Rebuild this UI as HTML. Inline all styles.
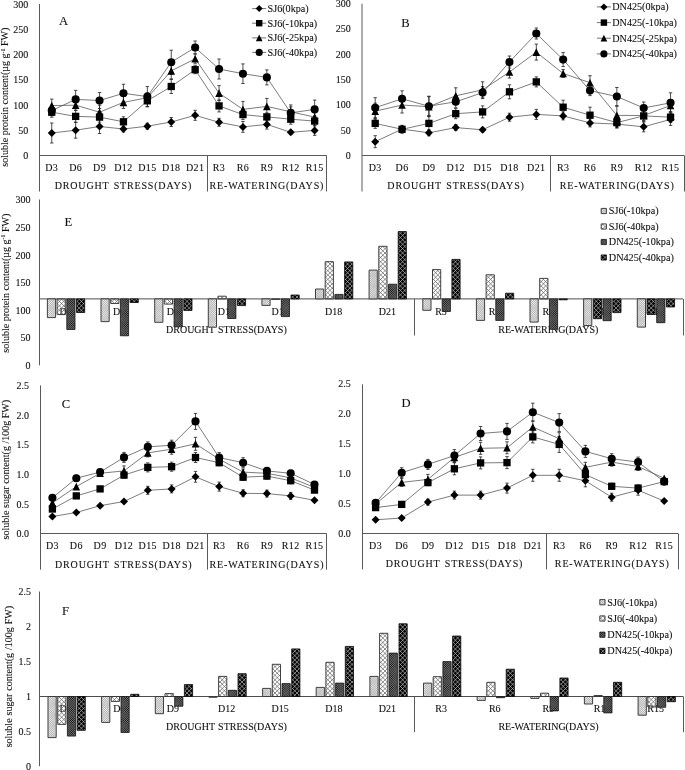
<!DOCTYPE html>
<html><head><meta charset="utf-8"><title>Figure</title>
<style>html,body{margin:0;padding:0;background:#fff}svg{display:block;will-change:transform;filter:grayscale(1)}text{font-family:"Liberation Serif",serif;fill:#111;stroke:#111;stroke-width:0.1px}</style>
</head><body>
<svg width="685" height="770" viewBox="0 0 685 770">
<defs>
</defs>
<rect width="685" height="770" fill="#fff"/>
<line x1="39.50" y1="4.00" x2="39.50" y2="191.50" stroke="#5a5a5a" stroke-width="1.0"/>
<line x1="39.80" y1="155.50" x2="326.60" y2="155.50" stroke="#5a5a5a" stroke-width="1.0"/>
<line x1="207.50" y1="155.40" x2="207.50" y2="191.50" stroke="#5a5a5a" stroke-width="1.0"/>
<line x1="326.50" y1="155.40" x2="326.50" y2="191.50" stroke="#5a5a5a" stroke-width="1.0"/>
<text x="28.30" y="7.60" font-size="10" text-anchor="end" >300</text>
<text x="28.30" y="32.80" font-size="10" text-anchor="end" >250</text>
<text x="28.30" y="58.00" font-size="10" text-anchor="end" >200</text>
<text x="28.30" y="83.30" font-size="10" text-anchor="end" >150</text>
<text x="28.30" y="108.80" font-size="10" text-anchor="end" >100</text>
<text x="28.30" y="134.00" font-size="10" text-anchor="end" >50</text>
<text x="28.30" y="158.70" font-size="10" text-anchor="end" >0</text>
<text transform="translate(8.40 97.20) rotate(-90)" font-size="10" text-anchor="middle">soluble protein content(µg g<tspan dy="-3.5" font-size="6">-1</tspan><tspan dy="3.5"> FW)</tspan></text>
<text x="59.00" y="24.60" font-size="12.6" text-anchor="start" >A</text>
<text x="51.75" y="171.00" font-size="10" text-anchor="middle" letter-spacing="0.4" >D3</text>
<text x="75.65" y="171.00" font-size="10" text-anchor="middle" letter-spacing="0.4" >D6</text>
<text x="99.55" y="171.00" font-size="10" text-anchor="middle" letter-spacing="0.4" >D9</text>
<text x="123.45" y="171.00" font-size="10" text-anchor="middle" letter-spacing="0.4" >D12</text>
<text x="147.35" y="171.00" font-size="10" text-anchor="middle" letter-spacing="0.4" >D15</text>
<text x="171.25" y="171.00" font-size="10" text-anchor="middle" letter-spacing="0.4" >D18</text>
<text x="195.15" y="171.00" font-size="10" text-anchor="middle" letter-spacing="0.4" >D21</text>
<text x="219.05" y="171.00" font-size="10" text-anchor="middle" letter-spacing="0.4" >R3</text>
<text x="242.95" y="171.00" font-size="10" text-anchor="middle" letter-spacing="0.4" >R6</text>
<text x="266.85" y="171.00" font-size="10" text-anchor="middle" letter-spacing="0.4" >R9</text>
<text x="290.75" y="171.00" font-size="10" text-anchor="middle" letter-spacing="0.4" >R12</text>
<text x="314.65" y="171.00" font-size="10" text-anchor="middle" letter-spacing="0.4" >R15</text>
<text x="123.45" y="188.90" font-size="10" text-anchor="middle" letter-spacing="0.82" word-spacing="1.2">DROUGHT STRESS(DAYS)</text>
<text x="266.85" y="188.90" font-size="10" text-anchor="middle" letter-spacing="0.86" >RE-WATERING(DAYS)</text>
<polyline points="51.75,133.00 75.65,130.20 99.55,126.50 123.45,129.00 147.35,126.20 171.25,122.00 195.15,115.30 219.05,122.30 242.95,126.90 266.85,124.40 290.75,132.30 314.65,130.40" fill="none" stroke="#505050" stroke-width="0.75"/>
<polyline points="51.75,112.20 75.65,116.40 99.55,117.10 123.45,121.80 147.35,100.80 171.25,86.50 195.15,69.70 219.05,105.90 242.95,114.60 266.85,116.90 290.75,119.20 314.65,121.10" fill="none" stroke="#505050" stroke-width="0.75"/>
<polyline points="51.75,105.60 75.65,105.20 99.55,112.20 123.45,102.40 147.35,97.70 171.25,70.90 195.15,58.80 219.05,93.10 242.95,109.40 266.85,106.40 290.75,111.80 314.65,117.10" fill="none" stroke="#505050" stroke-width="0.75"/>
<polyline points="51.75,110.60 75.65,99.40 99.55,100.50 123.45,93.30 147.35,96.60 171.25,62.20 195.15,47.50 219.05,69.00 242.95,73.70 266.85,77.40 290.75,112.90 314.65,109.40" fill="none" stroke="#505050" stroke-width="0.75"/>
<line x1="51.75" y1="123.00" x2="51.75" y2="143.00" stroke="#222" stroke-width="0.8"/>
<line x1="50.05" y1="123.00" x2="53.45" y2="123.00" stroke="#222" stroke-width="0.8"/>
<line x1="50.05" y1="143.00" x2="53.45" y2="143.00" stroke="#222" stroke-width="0.8"/>
<line x1="75.65" y1="122.20" x2="75.65" y2="138.20" stroke="#222" stroke-width="0.8"/>
<line x1="73.95" y1="122.20" x2="77.35" y2="122.20" stroke="#222" stroke-width="0.8"/>
<line x1="73.95" y1="138.20" x2="77.35" y2="138.20" stroke="#222" stroke-width="0.8"/>
<line x1="99.55" y1="119.50" x2="99.55" y2="133.50" stroke="#222" stroke-width="0.8"/>
<line x1="97.85" y1="119.50" x2="101.25" y2="119.50" stroke="#222" stroke-width="0.8"/>
<line x1="97.85" y1="133.50" x2="101.25" y2="133.50" stroke="#222" stroke-width="0.8"/>
<line x1="123.45" y1="126.00" x2="123.45" y2="132.00" stroke="#222" stroke-width="0.8"/>
<line x1="121.75" y1="126.00" x2="125.15" y2="126.00" stroke="#222" stroke-width="0.8"/>
<line x1="121.75" y1="132.00" x2="125.15" y2="132.00" stroke="#222" stroke-width="0.8"/>
<line x1="147.35" y1="123.20" x2="147.35" y2="129.20" stroke="#222" stroke-width="0.8"/>
<line x1="145.65" y1="123.20" x2="149.05" y2="123.20" stroke="#222" stroke-width="0.8"/>
<line x1="145.65" y1="129.20" x2="149.05" y2="129.20" stroke="#222" stroke-width="0.8"/>
<line x1="171.25" y1="117.50" x2="171.25" y2="126.50" stroke="#222" stroke-width="0.8"/>
<line x1="169.55" y1="117.50" x2="172.95" y2="117.50" stroke="#222" stroke-width="0.8"/>
<line x1="169.55" y1="126.50" x2="172.95" y2="126.50" stroke="#222" stroke-width="0.8"/>
<line x1="195.15" y1="110.30" x2="195.15" y2="120.30" stroke="#222" stroke-width="0.8"/>
<line x1="193.45" y1="110.30" x2="196.85" y2="110.30" stroke="#222" stroke-width="0.8"/>
<line x1="193.45" y1="120.30" x2="196.85" y2="120.30" stroke="#222" stroke-width="0.8"/>
<line x1="219.05" y1="118.30" x2="219.05" y2="126.30" stroke="#222" stroke-width="0.8"/>
<line x1="217.35" y1="118.30" x2="220.75" y2="118.30" stroke="#222" stroke-width="0.8"/>
<line x1="217.35" y1="126.30" x2="220.75" y2="126.30" stroke="#222" stroke-width="0.8"/>
<line x1="242.95" y1="121.50" x2="242.95" y2="132.30" stroke="#222" stroke-width="0.8"/>
<line x1="241.25" y1="121.50" x2="244.65" y2="121.50" stroke="#222" stroke-width="0.8"/>
<line x1="241.25" y1="132.30" x2="244.65" y2="132.30" stroke="#222" stroke-width="0.8"/>
<line x1="266.85" y1="119.70" x2="266.85" y2="129.10" stroke="#222" stroke-width="0.8"/>
<line x1="265.15" y1="119.70" x2="268.55" y2="119.70" stroke="#222" stroke-width="0.8"/>
<line x1="265.15" y1="129.10" x2="268.55" y2="129.10" stroke="#222" stroke-width="0.8"/>
<line x1="290.75" y1="130.30" x2="290.75" y2="134.30" stroke="#222" stroke-width="0.8"/>
<line x1="289.05" y1="130.30" x2="292.45" y2="130.30" stroke="#222" stroke-width="0.8"/>
<line x1="289.05" y1="134.30" x2="292.45" y2="134.30" stroke="#222" stroke-width="0.8"/>
<line x1="314.65" y1="125.40" x2="314.65" y2="135.40" stroke="#222" stroke-width="0.8"/>
<line x1="312.95" y1="125.40" x2="316.35" y2="125.40" stroke="#222" stroke-width="0.8"/>
<line x1="312.95" y1="135.40" x2="316.35" y2="135.40" stroke="#222" stroke-width="0.8"/>
<line x1="51.75" y1="107.20" x2="51.75" y2="117.20" stroke="#222" stroke-width="0.8"/>
<line x1="50.05" y1="107.20" x2="53.45" y2="107.20" stroke="#222" stroke-width="0.8"/>
<line x1="50.05" y1="117.20" x2="53.45" y2="117.20" stroke="#222" stroke-width="0.8"/>
<line x1="75.65" y1="110.40" x2="75.65" y2="122.40" stroke="#222" stroke-width="0.8"/>
<line x1="73.95" y1="110.40" x2="77.35" y2="110.40" stroke="#222" stroke-width="0.8"/>
<line x1="73.95" y1="122.40" x2="77.35" y2="122.40" stroke="#222" stroke-width="0.8"/>
<line x1="99.55" y1="112.10" x2="99.55" y2="122.10" stroke="#222" stroke-width="0.8"/>
<line x1="97.85" y1="112.10" x2="101.25" y2="112.10" stroke="#222" stroke-width="0.8"/>
<line x1="97.85" y1="122.10" x2="101.25" y2="122.10" stroke="#222" stroke-width="0.8"/>
<line x1="123.45" y1="116.80" x2="123.45" y2="126.80" stroke="#222" stroke-width="0.8"/>
<line x1="121.75" y1="116.80" x2="125.15" y2="116.80" stroke="#222" stroke-width="0.8"/>
<line x1="121.75" y1="126.80" x2="125.15" y2="126.80" stroke="#222" stroke-width="0.8"/>
<line x1="147.35" y1="94.80" x2="147.35" y2="106.80" stroke="#222" stroke-width="0.8"/>
<line x1="145.65" y1="94.80" x2="149.05" y2="94.80" stroke="#222" stroke-width="0.8"/>
<line x1="145.65" y1="106.80" x2="149.05" y2="106.80" stroke="#222" stroke-width="0.8"/>
<line x1="171.25" y1="79.50" x2="171.25" y2="93.50" stroke="#222" stroke-width="0.8"/>
<line x1="169.55" y1="79.50" x2="172.95" y2="79.50" stroke="#222" stroke-width="0.8"/>
<line x1="169.55" y1="93.50" x2="172.95" y2="93.50" stroke="#222" stroke-width="0.8"/>
<line x1="195.15" y1="65.70" x2="195.15" y2="73.70" stroke="#222" stroke-width="0.8"/>
<line x1="193.45" y1="65.70" x2="196.85" y2="65.70" stroke="#222" stroke-width="0.8"/>
<line x1="193.45" y1="73.70" x2="196.85" y2="73.70" stroke="#222" stroke-width="0.8"/>
<line x1="219.05" y1="99.90" x2="219.05" y2="111.90" stroke="#222" stroke-width="0.8"/>
<line x1="217.35" y1="99.90" x2="220.75" y2="99.90" stroke="#222" stroke-width="0.8"/>
<line x1="217.35" y1="111.90" x2="220.75" y2="111.90" stroke="#222" stroke-width="0.8"/>
<line x1="242.95" y1="109.60" x2="242.95" y2="119.60" stroke="#222" stroke-width="0.8"/>
<line x1="241.25" y1="109.60" x2="244.65" y2="109.60" stroke="#222" stroke-width="0.8"/>
<line x1="241.25" y1="119.60" x2="244.65" y2="119.60" stroke="#222" stroke-width="0.8"/>
<line x1="266.85" y1="112.90" x2="266.85" y2="120.90" stroke="#222" stroke-width="0.8"/>
<line x1="265.15" y1="112.90" x2="268.55" y2="112.90" stroke="#222" stroke-width="0.8"/>
<line x1="265.15" y1="120.90" x2="268.55" y2="120.90" stroke="#222" stroke-width="0.8"/>
<line x1="290.75" y1="114.20" x2="290.75" y2="124.20" stroke="#222" stroke-width="0.8"/>
<line x1="289.05" y1="114.20" x2="292.45" y2="114.20" stroke="#222" stroke-width="0.8"/>
<line x1="289.05" y1="124.20" x2="292.45" y2="124.20" stroke="#222" stroke-width="0.8"/>
<line x1="314.65" y1="116.10" x2="314.65" y2="126.10" stroke="#222" stroke-width="0.8"/>
<line x1="312.95" y1="116.10" x2="316.35" y2="116.10" stroke="#222" stroke-width="0.8"/>
<line x1="312.95" y1="126.10" x2="316.35" y2="126.10" stroke="#222" stroke-width="0.8"/>
<line x1="51.75" y1="99.10" x2="51.75" y2="112.10" stroke="#222" stroke-width="0.8"/>
<line x1="50.05" y1="99.10" x2="53.45" y2="99.10" stroke="#222" stroke-width="0.8"/>
<line x1="50.05" y1="112.10" x2="53.45" y2="112.10" stroke="#222" stroke-width="0.8"/>
<line x1="75.65" y1="100.20" x2="75.65" y2="110.20" stroke="#222" stroke-width="0.8"/>
<line x1="73.95" y1="100.20" x2="77.35" y2="100.20" stroke="#222" stroke-width="0.8"/>
<line x1="73.95" y1="110.20" x2="77.35" y2="110.20" stroke="#222" stroke-width="0.8"/>
<line x1="99.55" y1="105.20" x2="99.55" y2="119.20" stroke="#222" stroke-width="0.8"/>
<line x1="97.85" y1="105.20" x2="101.25" y2="105.20" stroke="#222" stroke-width="0.8"/>
<line x1="97.85" y1="119.20" x2="101.25" y2="119.20" stroke="#222" stroke-width="0.8"/>
<line x1="123.45" y1="96.40" x2="123.45" y2="108.40" stroke="#222" stroke-width="0.8"/>
<line x1="121.75" y1="96.40" x2="125.15" y2="96.40" stroke="#222" stroke-width="0.8"/>
<line x1="121.75" y1="108.40" x2="125.15" y2="108.40" stroke="#222" stroke-width="0.8"/>
<line x1="147.35" y1="92.70" x2="147.35" y2="102.70" stroke="#222" stroke-width="0.8"/>
<line x1="145.65" y1="92.70" x2="149.05" y2="92.70" stroke="#222" stroke-width="0.8"/>
<line x1="145.65" y1="102.70" x2="149.05" y2="102.70" stroke="#222" stroke-width="0.8"/>
<line x1="171.25" y1="62.90" x2="171.25" y2="78.90" stroke="#222" stroke-width="0.8"/>
<line x1="169.55" y1="62.90" x2="172.95" y2="62.90" stroke="#222" stroke-width="0.8"/>
<line x1="169.55" y1="78.90" x2="172.95" y2="78.90" stroke="#222" stroke-width="0.8"/>
<line x1="195.15" y1="53.80" x2="195.15" y2="63.80" stroke="#222" stroke-width="0.8"/>
<line x1="193.45" y1="53.80" x2="196.85" y2="53.80" stroke="#222" stroke-width="0.8"/>
<line x1="193.45" y1="63.80" x2="196.85" y2="63.80" stroke="#222" stroke-width="0.8"/>
<line x1="219.05" y1="85.60" x2="219.05" y2="100.60" stroke="#222" stroke-width="0.8"/>
<line x1="217.35" y1="85.60" x2="220.75" y2="85.60" stroke="#222" stroke-width="0.8"/>
<line x1="217.35" y1="100.60" x2="220.75" y2="100.60" stroke="#222" stroke-width="0.8"/>
<line x1="242.95" y1="101.40" x2="242.95" y2="117.40" stroke="#222" stroke-width="0.8"/>
<line x1="241.25" y1="101.40" x2="244.65" y2="101.40" stroke="#222" stroke-width="0.8"/>
<line x1="241.25" y1="117.40" x2="244.65" y2="117.40" stroke="#222" stroke-width="0.8"/>
<line x1="266.85" y1="98.40" x2="266.85" y2="114.40" stroke="#222" stroke-width="0.8"/>
<line x1="265.15" y1="98.40" x2="268.55" y2="98.40" stroke="#222" stroke-width="0.8"/>
<line x1="265.15" y1="114.40" x2="268.55" y2="114.40" stroke="#222" stroke-width="0.8"/>
<line x1="290.75" y1="106.80" x2="290.75" y2="116.80" stroke="#222" stroke-width="0.8"/>
<line x1="289.05" y1="106.80" x2="292.45" y2="106.80" stroke="#222" stroke-width="0.8"/>
<line x1="289.05" y1="116.80" x2="292.45" y2="116.80" stroke="#222" stroke-width="0.8"/>
<line x1="314.65" y1="112.10" x2="314.65" y2="122.10" stroke="#222" stroke-width="0.8"/>
<line x1="312.95" y1="112.10" x2="316.35" y2="112.10" stroke="#222" stroke-width="0.8"/>
<line x1="312.95" y1="122.10" x2="316.35" y2="122.10" stroke="#222" stroke-width="0.8"/>
<line x1="51.75" y1="105.60" x2="51.75" y2="115.60" stroke="#222" stroke-width="0.8"/>
<line x1="50.05" y1="105.60" x2="53.45" y2="105.60" stroke="#222" stroke-width="0.8"/>
<line x1="50.05" y1="115.60" x2="53.45" y2="115.60" stroke="#222" stroke-width="0.8"/>
<line x1="75.65" y1="90.40" x2="75.65" y2="108.40" stroke="#222" stroke-width="0.8"/>
<line x1="73.95" y1="90.40" x2="77.35" y2="90.40" stroke="#222" stroke-width="0.8"/>
<line x1="73.95" y1="108.40" x2="77.35" y2="108.40" stroke="#222" stroke-width="0.8"/>
<line x1="99.55" y1="92.50" x2="99.55" y2="108.50" stroke="#222" stroke-width="0.8"/>
<line x1="97.85" y1="92.50" x2="101.25" y2="92.50" stroke="#222" stroke-width="0.8"/>
<line x1="97.85" y1="108.50" x2="101.25" y2="108.50" stroke="#222" stroke-width="0.8"/>
<line x1="123.45" y1="84.30" x2="123.45" y2="102.30" stroke="#222" stroke-width="0.8"/>
<line x1="121.75" y1="84.30" x2="125.15" y2="84.30" stroke="#222" stroke-width="0.8"/>
<line x1="121.75" y1="102.30" x2="125.15" y2="102.30" stroke="#222" stroke-width="0.8"/>
<line x1="147.35" y1="86.60" x2="147.35" y2="106.60" stroke="#222" stroke-width="0.8"/>
<line x1="145.65" y1="86.60" x2="149.05" y2="86.60" stroke="#222" stroke-width="0.8"/>
<line x1="145.65" y1="106.60" x2="149.05" y2="106.60" stroke="#222" stroke-width="0.8"/>
<line x1="171.25" y1="50.20" x2="171.25" y2="74.20" stroke="#222" stroke-width="0.8"/>
<line x1="169.55" y1="50.20" x2="172.95" y2="50.20" stroke="#222" stroke-width="0.8"/>
<line x1="169.55" y1="74.20" x2="172.95" y2="74.20" stroke="#222" stroke-width="0.8"/>
<line x1="195.15" y1="41.00" x2="195.15" y2="54.00" stroke="#222" stroke-width="0.8"/>
<line x1="193.45" y1="41.00" x2="196.85" y2="41.00" stroke="#222" stroke-width="0.8"/>
<line x1="193.45" y1="54.00" x2="196.85" y2="54.00" stroke="#222" stroke-width="0.8"/>
<line x1="219.05" y1="59.00" x2="219.05" y2="79.00" stroke="#222" stroke-width="0.8"/>
<line x1="217.35" y1="59.00" x2="220.75" y2="59.00" stroke="#222" stroke-width="0.8"/>
<line x1="217.35" y1="79.00" x2="220.75" y2="79.00" stroke="#222" stroke-width="0.8"/>
<line x1="242.95" y1="63.90" x2="242.95" y2="83.50" stroke="#222" stroke-width="0.8"/>
<line x1="241.25" y1="63.90" x2="244.65" y2="63.90" stroke="#222" stroke-width="0.8"/>
<line x1="241.25" y1="83.50" x2="244.65" y2="83.50" stroke="#222" stroke-width="0.8"/>
<line x1="266.85" y1="69.90" x2="266.85" y2="84.90" stroke="#222" stroke-width="0.8"/>
<line x1="265.15" y1="69.90" x2="268.55" y2="69.90" stroke="#222" stroke-width="0.8"/>
<line x1="265.15" y1="84.90" x2="268.55" y2="84.90" stroke="#222" stroke-width="0.8"/>
<line x1="290.75" y1="104.90" x2="290.75" y2="120.90" stroke="#222" stroke-width="0.8"/>
<line x1="289.05" y1="104.90" x2="292.45" y2="104.90" stroke="#222" stroke-width="0.8"/>
<line x1="289.05" y1="120.90" x2="292.45" y2="120.90" stroke="#222" stroke-width="0.8"/>
<line x1="314.65" y1="100.10" x2="314.65" y2="118.70" stroke="#222" stroke-width="0.8"/>
<line x1="312.95" y1="100.10" x2="316.35" y2="100.10" stroke="#222" stroke-width="0.8"/>
<line x1="312.95" y1="118.70" x2="316.35" y2="118.70" stroke="#222" stroke-width="0.8"/>
<path d="M51.75 129.00L55.75 133.00L51.75 137.00L47.75 133.00Z" fill="#000"/>
<path d="M75.65 126.20L79.65 130.20L75.65 134.20L71.65 130.20Z" fill="#000"/>
<path d="M99.55 122.50L103.55 126.50L99.55 130.50L95.55 126.50Z" fill="#000"/>
<path d="M123.45 125.00L127.45 129.00L123.45 133.00L119.45 129.00Z" fill="#000"/>
<path d="M147.35 122.20L151.35 126.20L147.35 130.20L143.35 126.20Z" fill="#000"/>
<path d="M171.25 118.00L175.25 122.00L171.25 126.00L167.25 122.00Z" fill="#000"/>
<path d="M195.15 111.30L199.15 115.30L195.15 119.30L191.15 115.30Z" fill="#000"/>
<path d="M219.05 118.30L223.05 122.30L219.05 126.30L215.05 122.30Z" fill="#000"/>
<path d="M242.95 122.90L246.95 126.90L242.95 130.90L238.95 126.90Z" fill="#000"/>
<path d="M266.85 120.40L270.85 124.40L266.85 128.40L262.85 124.40Z" fill="#000"/>
<path d="M290.75 128.30L294.75 132.30L290.75 136.30L286.75 132.30Z" fill="#000"/>
<path d="M314.65 126.40L318.65 130.40L314.65 134.40L310.65 130.40Z" fill="#000"/>
<rect x="48.10" y="108.55" width="7.30" height="7.30" fill="#000"/>
<rect x="72.00" y="112.75" width="7.30" height="7.30" fill="#000"/>
<rect x="95.90" y="113.45" width="7.30" height="7.30" fill="#000"/>
<rect x="119.80" y="118.15" width="7.30" height="7.30" fill="#000"/>
<rect x="143.70" y="97.15" width="7.30" height="7.30" fill="#000"/>
<rect x="167.60" y="82.85" width="7.30" height="7.30" fill="#000"/>
<rect x="191.50" y="66.05" width="7.30" height="7.30" fill="#000"/>
<rect x="215.40" y="102.25" width="7.30" height="7.30" fill="#000"/>
<rect x="239.30" y="110.95" width="7.30" height="7.30" fill="#000"/>
<rect x="263.20" y="113.25" width="7.30" height="7.30" fill="#000"/>
<rect x="287.10" y="115.55" width="7.30" height="7.30" fill="#000"/>
<rect x="311.00" y="117.45" width="7.30" height="7.30" fill="#000"/>
<path d="M51.75 101.80L55.55 109.40L47.95 109.40Z" fill="#000"/>
<path d="M75.65 101.40L79.45 109.00L71.85 109.00Z" fill="#000"/>
<path d="M99.55 108.40L103.35 116.00L95.75 116.00Z" fill="#000"/>
<path d="M123.45 98.60L127.25 106.20L119.65 106.20Z" fill="#000"/>
<path d="M147.35 93.90L151.15 101.50L143.55 101.50Z" fill="#000"/>
<path d="M171.25 67.10L175.05 74.70L167.45 74.70Z" fill="#000"/>
<path d="M195.15 55.00L198.95 62.60L191.35 62.60Z" fill="#000"/>
<path d="M219.05 89.30L222.85 96.90L215.25 96.90Z" fill="#000"/>
<path d="M242.95 105.60L246.75 113.20L239.15 113.20Z" fill="#000"/>
<path d="M266.85 102.60L270.65 110.20L263.05 110.20Z" fill="#000"/>
<path d="M290.75 108.00L294.55 115.60L286.95 115.60Z" fill="#000"/>
<path d="M314.65 113.30L318.45 120.90L310.85 120.90Z" fill="#000"/>
<circle cx="51.75" cy="110.60" r="4.05" fill="#000"/>
<circle cx="75.65" cy="99.40" r="4.05" fill="#000"/>
<circle cx="99.55" cy="100.50" r="4.05" fill="#000"/>
<circle cx="123.45" cy="93.30" r="4.05" fill="#000"/>
<circle cx="147.35" cy="96.60" r="4.05" fill="#000"/>
<circle cx="171.25" cy="62.20" r="4.05" fill="#000"/>
<circle cx="195.15" cy="47.50" r="4.05" fill="#000"/>
<circle cx="219.05" cy="69.00" r="4.05" fill="#000"/>
<circle cx="242.95" cy="73.70" r="4.05" fill="#000"/>
<circle cx="266.85" cy="77.40" r="4.05" fill="#000"/>
<circle cx="290.75" cy="112.90" r="4.05" fill="#000"/>
<circle cx="314.65" cy="109.40" r="4.05" fill="#000"/>
<line x1="252.20" y1="8.60" x2="266.20" y2="8.60" stroke="#505050" stroke-width="0.8"/>
<path d="M259.20 5.08L262.72 8.60L259.20 12.12L255.68 8.60Z" fill="#000"/>
<text x="267.60" y="11.90" font-size="10.15" text-anchor="start" >SJ6(0kpa)</text>
<line x1="252.20" y1="23.20" x2="266.20" y2="23.20" stroke="#505050" stroke-width="0.8"/>
<rect x="255.99" y="19.99" width="6.42" height="6.42" fill="#000"/>
<text x="267.60" y="26.50" font-size="10.15" text-anchor="start" >SJ6(-10kpa)</text>
<line x1="252.20" y1="37.90" x2="266.20" y2="37.90" stroke="#505050" stroke-width="0.8"/>
<path d="M259.20 34.56L262.54 41.24L255.86 41.24Z" fill="#000"/>
<text x="267.60" y="41.20" font-size="10.15" text-anchor="start" >SJ6(-25kpa)</text>
<line x1="252.20" y1="52.40" x2="266.20" y2="52.40" stroke="#505050" stroke-width="0.8"/>
<circle cx="259.20" cy="52.40" r="3.56" fill="#000"/>
<text x="267.60" y="55.70" font-size="10.15" text-anchor="start" >SJ6(-40kpa)</text>
<line x1="362.00" y1="3.70" x2="362.00" y2="191.50" stroke="#5a5a5a" stroke-width="1.0"/>
<line x1="362.00" y1="155.50" x2="684.40" y2="155.50" stroke="#5a5a5a" stroke-width="1.0"/>
<line x1="550.50" y1="155.50" x2="550.50" y2="191.50" stroke="#5a5a5a" stroke-width="1.0"/>
<line x1="684.50" y1="155.50" x2="684.50" y2="191.50" stroke="#5a5a5a" stroke-width="1.0"/>
<text x="350.70" y="7.20" font-size="10" text-anchor="end" >300</text>
<text x="350.70" y="32.00" font-size="10" text-anchor="end" >250</text>
<text x="350.70" y="57.80" font-size="10" text-anchor="end" >200</text>
<text x="350.70" y="83.10" font-size="10" text-anchor="end" >150</text>
<text x="350.70" y="108.30" font-size="10" text-anchor="end" >100</text>
<text x="350.70" y="133.50" font-size="10" text-anchor="end" >50</text>
<text x="350.70" y="158.80" font-size="10" text-anchor="end" >0</text>
<text transform="translate(0.00 0.00) rotate(-90)" font-size="10" text-anchor="middle"></text>
<text x="401.30" y="27.30" font-size="12.6" text-anchor="start" >B</text>
<text x="375.20" y="171.00" font-size="10" text-anchor="middle" letter-spacing="0.4" >D3</text>
<text x="402.05" y="171.00" font-size="10" text-anchor="middle" letter-spacing="0.4" >D6</text>
<text x="428.90" y="171.00" font-size="10" text-anchor="middle" letter-spacing="0.4" >D9</text>
<text x="455.75" y="171.00" font-size="10" text-anchor="middle" letter-spacing="0.4" >D12</text>
<text x="482.60" y="171.00" font-size="10" text-anchor="middle" letter-spacing="0.4" >D15</text>
<text x="509.45" y="171.00" font-size="10" text-anchor="middle" letter-spacing="0.4" >D18</text>
<text x="536.30" y="171.00" font-size="10" text-anchor="middle" letter-spacing="0.4" >D21</text>
<text x="563.15" y="171.00" font-size="10" text-anchor="middle" letter-spacing="0.4" >R3</text>
<text x="590.00" y="171.00" font-size="10" text-anchor="middle" letter-spacing="0.4" >R6</text>
<text x="616.85" y="171.00" font-size="10" text-anchor="middle" letter-spacing="0.4" >R9</text>
<text x="643.70" y="171.00" font-size="10" text-anchor="middle" letter-spacing="0.4" >R12</text>
<text x="670.55" y="171.00" font-size="10" text-anchor="middle" letter-spacing="0.4" >R15</text>
<text x="456.03" y="188.90" font-size="10" text-anchor="middle" letter-spacing="0.82" word-spacing="1.2">DROUGHT STRESS(DAYS)</text>
<text x="617.23" y="188.90" font-size="10" text-anchor="middle" letter-spacing="0.86" >RE-WATERING(DAYS)</text>
<polyline points="375.20,141.70 402.05,129.10 428.90,132.80 455.75,127.60 482.60,129.80 509.45,117.20 536.30,114.40 563.15,115.90 590.00,122.90 616.85,124.10 643.70,126.80 670.55,119.40" fill="none" stroke="#505050" stroke-width="0.75"/>
<polyline points="375.20,123.40 402.05,129.30 428.90,123.40 455.75,113.70 482.60,111.90 509.45,91.80 536.30,81.90 563.15,107.20 590.00,115.20 616.85,122.60 643.70,115.90 670.55,117.20" fill="none" stroke="#505050" stroke-width="0.75"/>
<polyline points="375.20,111.20 402.05,105.00 428.90,106.70 455.75,95.80 482.60,89.80 509.45,72.00 536.30,52.10 563.15,73.50 590.00,82.70 616.85,115.40 643.70,115.50 670.55,105.50" fill="none" stroke="#505050" stroke-width="0.75"/>
<polyline points="375.20,107.70 402.05,98.80 428.90,106.20 455.75,101.80 482.60,92.60 509.45,62.00 536.30,33.50 563.15,59.60 590.00,90.60 616.85,96.50 643.70,108.00 670.55,102.80" fill="none" stroke="#505050" stroke-width="0.75"/>
<line x1="375.20" y1="135.70" x2="375.20" y2="147.70" stroke="#222" stroke-width="0.8"/>
<line x1="373.50" y1="135.70" x2="376.90" y2="135.70" stroke="#222" stroke-width="0.8"/>
<line x1="373.50" y1="147.70" x2="376.90" y2="147.70" stroke="#222" stroke-width="0.8"/>
<line x1="402.05" y1="126.10" x2="402.05" y2="132.10" stroke="#222" stroke-width="0.8"/>
<line x1="400.35" y1="126.10" x2="403.75" y2="126.10" stroke="#222" stroke-width="0.8"/>
<line x1="400.35" y1="132.10" x2="403.75" y2="132.10" stroke="#222" stroke-width="0.8"/>
<line x1="428.90" y1="129.80" x2="428.90" y2="135.80" stroke="#222" stroke-width="0.8"/>
<line x1="427.20" y1="129.80" x2="430.60" y2="129.80" stroke="#222" stroke-width="0.8"/>
<line x1="427.20" y1="135.80" x2="430.60" y2="135.80" stroke="#222" stroke-width="0.8"/>
<line x1="455.75" y1="124.60" x2="455.75" y2="130.60" stroke="#222" stroke-width="0.8"/>
<line x1="454.05" y1="124.60" x2="457.45" y2="124.60" stroke="#222" stroke-width="0.8"/>
<line x1="454.05" y1="130.60" x2="457.45" y2="130.60" stroke="#222" stroke-width="0.8"/>
<line x1="482.60" y1="127.80" x2="482.60" y2="131.80" stroke="#222" stroke-width="0.8"/>
<line x1="480.90" y1="127.80" x2="484.30" y2="127.80" stroke="#222" stroke-width="0.8"/>
<line x1="480.90" y1="131.80" x2="484.30" y2="131.80" stroke="#222" stroke-width="0.8"/>
<line x1="509.45" y1="113.20" x2="509.45" y2="121.20" stroke="#222" stroke-width="0.8"/>
<line x1="507.75" y1="113.20" x2="511.15" y2="113.20" stroke="#222" stroke-width="0.8"/>
<line x1="507.75" y1="121.20" x2="511.15" y2="121.20" stroke="#222" stroke-width="0.8"/>
<line x1="536.30" y1="109.40" x2="536.30" y2="119.40" stroke="#222" stroke-width="0.8"/>
<line x1="534.60" y1="109.40" x2="538.00" y2="109.40" stroke="#222" stroke-width="0.8"/>
<line x1="534.60" y1="119.40" x2="538.00" y2="119.40" stroke="#222" stroke-width="0.8"/>
<line x1="563.15" y1="111.90" x2="563.15" y2="119.90" stroke="#222" stroke-width="0.8"/>
<line x1="561.45" y1="111.90" x2="564.85" y2="111.90" stroke="#222" stroke-width="0.8"/>
<line x1="561.45" y1="119.90" x2="564.85" y2="119.90" stroke="#222" stroke-width="0.8"/>
<line x1="590.00" y1="118.90" x2="590.00" y2="126.90" stroke="#222" stroke-width="0.8"/>
<line x1="588.30" y1="118.90" x2="591.70" y2="118.90" stroke="#222" stroke-width="0.8"/>
<line x1="588.30" y1="126.90" x2="591.70" y2="126.90" stroke="#222" stroke-width="0.8"/>
<line x1="616.85" y1="120.10" x2="616.85" y2="128.10" stroke="#222" stroke-width="0.8"/>
<line x1="615.15" y1="120.10" x2="618.55" y2="120.10" stroke="#222" stroke-width="0.8"/>
<line x1="615.15" y1="128.10" x2="618.55" y2="128.10" stroke="#222" stroke-width="0.8"/>
<line x1="643.70" y1="121.80" x2="643.70" y2="131.80" stroke="#222" stroke-width="0.8"/>
<line x1="642.00" y1="121.80" x2="645.40" y2="121.80" stroke="#222" stroke-width="0.8"/>
<line x1="642.00" y1="131.80" x2="645.40" y2="131.80" stroke="#222" stroke-width="0.8"/>
<line x1="670.55" y1="113.40" x2="670.55" y2="125.40" stroke="#222" stroke-width="0.8"/>
<line x1="668.85" y1="113.40" x2="672.25" y2="113.40" stroke="#222" stroke-width="0.8"/>
<line x1="668.85" y1="125.40" x2="672.25" y2="125.40" stroke="#222" stroke-width="0.8"/>
<line x1="375.20" y1="118.40" x2="375.20" y2="128.40" stroke="#222" stroke-width="0.8"/>
<line x1="373.50" y1="118.40" x2="376.90" y2="118.40" stroke="#222" stroke-width="0.8"/>
<line x1="373.50" y1="128.40" x2="376.90" y2="128.40" stroke="#222" stroke-width="0.8"/>
<line x1="402.05" y1="125.30" x2="402.05" y2="133.30" stroke="#222" stroke-width="0.8"/>
<line x1="400.35" y1="125.30" x2="403.75" y2="125.30" stroke="#222" stroke-width="0.8"/>
<line x1="400.35" y1="133.30" x2="403.75" y2="133.30" stroke="#222" stroke-width="0.8"/>
<line x1="428.90" y1="115.40" x2="428.90" y2="131.40" stroke="#222" stroke-width="0.8"/>
<line x1="427.20" y1="115.40" x2="430.60" y2="115.40" stroke="#222" stroke-width="0.8"/>
<line x1="427.20" y1="131.40" x2="430.60" y2="131.40" stroke="#222" stroke-width="0.8"/>
<line x1="455.75" y1="108.70" x2="455.75" y2="118.70" stroke="#222" stroke-width="0.8"/>
<line x1="454.05" y1="108.70" x2="457.45" y2="108.70" stroke="#222" stroke-width="0.8"/>
<line x1="454.05" y1="118.70" x2="457.45" y2="118.70" stroke="#222" stroke-width="0.8"/>
<line x1="482.60" y1="105.90" x2="482.60" y2="117.90" stroke="#222" stroke-width="0.8"/>
<line x1="480.90" y1="105.90" x2="484.30" y2="105.90" stroke="#222" stroke-width="0.8"/>
<line x1="480.90" y1="117.90" x2="484.30" y2="117.90" stroke="#222" stroke-width="0.8"/>
<line x1="509.45" y1="84.80" x2="509.45" y2="98.80" stroke="#222" stroke-width="0.8"/>
<line x1="507.75" y1="84.80" x2="511.15" y2="84.80" stroke="#222" stroke-width="0.8"/>
<line x1="507.75" y1="98.80" x2="511.15" y2="98.80" stroke="#222" stroke-width="0.8"/>
<line x1="536.30" y1="76.90" x2="536.30" y2="86.90" stroke="#222" stroke-width="0.8"/>
<line x1="534.60" y1="76.90" x2="538.00" y2="76.90" stroke="#222" stroke-width="0.8"/>
<line x1="534.60" y1="86.90" x2="538.00" y2="86.90" stroke="#222" stroke-width="0.8"/>
<line x1="563.15" y1="100.20" x2="563.15" y2="114.20" stroke="#222" stroke-width="0.8"/>
<line x1="561.45" y1="100.20" x2="564.85" y2="100.20" stroke="#222" stroke-width="0.8"/>
<line x1="561.45" y1="114.20" x2="564.85" y2="114.20" stroke="#222" stroke-width="0.8"/>
<line x1="590.00" y1="107.20" x2="590.00" y2="123.20" stroke="#222" stroke-width="0.8"/>
<line x1="588.30" y1="107.20" x2="591.70" y2="107.20" stroke="#222" stroke-width="0.8"/>
<line x1="588.30" y1="123.20" x2="591.70" y2="123.20" stroke="#222" stroke-width="0.8"/>
<line x1="616.85" y1="117.60" x2="616.85" y2="127.60" stroke="#222" stroke-width="0.8"/>
<line x1="615.15" y1="117.60" x2="618.55" y2="117.60" stroke="#222" stroke-width="0.8"/>
<line x1="615.15" y1="127.60" x2="618.55" y2="127.60" stroke="#222" stroke-width="0.8"/>
<line x1="643.70" y1="109.90" x2="643.70" y2="121.90" stroke="#222" stroke-width="0.8"/>
<line x1="642.00" y1="109.90" x2="645.40" y2="109.90" stroke="#222" stroke-width="0.8"/>
<line x1="642.00" y1="121.90" x2="645.40" y2="121.90" stroke="#222" stroke-width="0.8"/>
<line x1="670.55" y1="112.20" x2="670.55" y2="122.20" stroke="#222" stroke-width="0.8"/>
<line x1="668.85" y1="112.20" x2="672.25" y2="112.20" stroke="#222" stroke-width="0.8"/>
<line x1="668.85" y1="122.20" x2="672.25" y2="122.20" stroke="#222" stroke-width="0.8"/>
<line x1="375.20" y1="103.20" x2="375.20" y2="119.20" stroke="#222" stroke-width="0.8"/>
<line x1="373.50" y1="103.20" x2="376.90" y2="103.20" stroke="#222" stroke-width="0.8"/>
<line x1="373.50" y1="119.20" x2="376.90" y2="119.20" stroke="#222" stroke-width="0.8"/>
<line x1="402.05" y1="97.00" x2="402.05" y2="113.00" stroke="#222" stroke-width="0.8"/>
<line x1="400.35" y1="97.00" x2="403.75" y2="97.00" stroke="#222" stroke-width="0.8"/>
<line x1="400.35" y1="113.00" x2="403.75" y2="113.00" stroke="#222" stroke-width="0.8"/>
<line x1="428.90" y1="96.70" x2="428.90" y2="116.70" stroke="#222" stroke-width="0.8"/>
<line x1="427.20" y1="96.70" x2="430.60" y2="96.70" stroke="#222" stroke-width="0.8"/>
<line x1="427.20" y1="116.70" x2="430.60" y2="116.70" stroke="#222" stroke-width="0.8"/>
<line x1="455.75" y1="87.80" x2="455.75" y2="103.80" stroke="#222" stroke-width="0.8"/>
<line x1="454.05" y1="87.80" x2="457.45" y2="87.80" stroke="#222" stroke-width="0.8"/>
<line x1="454.05" y1="103.80" x2="457.45" y2="103.80" stroke="#222" stroke-width="0.8"/>
<line x1="482.60" y1="81.80" x2="482.60" y2="97.80" stroke="#222" stroke-width="0.8"/>
<line x1="480.90" y1="81.80" x2="484.30" y2="81.80" stroke="#222" stroke-width="0.8"/>
<line x1="480.90" y1="97.80" x2="484.30" y2="97.80" stroke="#222" stroke-width="0.8"/>
<line x1="509.45" y1="66.00" x2="509.45" y2="78.00" stroke="#222" stroke-width="0.8"/>
<line x1="507.75" y1="66.00" x2="511.15" y2="66.00" stroke="#222" stroke-width="0.8"/>
<line x1="507.75" y1="78.00" x2="511.15" y2="78.00" stroke="#222" stroke-width="0.8"/>
<line x1="536.30" y1="44.10" x2="536.30" y2="60.10" stroke="#222" stroke-width="0.8"/>
<line x1="534.60" y1="44.10" x2="538.00" y2="44.10" stroke="#222" stroke-width="0.8"/>
<line x1="534.60" y1="60.10" x2="538.00" y2="60.10" stroke="#222" stroke-width="0.8"/>
<line x1="563.15" y1="69.50" x2="563.15" y2="77.50" stroke="#222" stroke-width="0.8"/>
<line x1="561.45" y1="69.50" x2="564.85" y2="69.50" stroke="#222" stroke-width="0.8"/>
<line x1="561.45" y1="77.50" x2="564.85" y2="77.50" stroke="#222" stroke-width="0.8"/>
<line x1="590.00" y1="75.70" x2="590.00" y2="89.70" stroke="#222" stroke-width="0.8"/>
<line x1="588.30" y1="75.70" x2="591.70" y2="75.70" stroke="#222" stroke-width="0.8"/>
<line x1="588.30" y1="89.70" x2="591.70" y2="89.70" stroke="#222" stroke-width="0.8"/>
<line x1="616.85" y1="106.40" x2="616.85" y2="124.40" stroke="#222" stroke-width="0.8"/>
<line x1="615.15" y1="106.40" x2="618.55" y2="106.40" stroke="#222" stroke-width="0.8"/>
<line x1="615.15" y1="124.40" x2="618.55" y2="124.40" stroke="#222" stroke-width="0.8"/>
<line x1="643.70" y1="110.50" x2="643.70" y2="120.50" stroke="#222" stroke-width="0.8"/>
<line x1="642.00" y1="110.50" x2="645.40" y2="110.50" stroke="#222" stroke-width="0.8"/>
<line x1="642.00" y1="120.50" x2="645.40" y2="120.50" stroke="#222" stroke-width="0.8"/>
<line x1="670.55" y1="99.50" x2="670.55" y2="111.50" stroke="#222" stroke-width="0.8"/>
<line x1="668.85" y1="99.50" x2="672.25" y2="99.50" stroke="#222" stroke-width="0.8"/>
<line x1="668.85" y1="111.50" x2="672.25" y2="111.50" stroke="#222" stroke-width="0.8"/>
<line x1="375.20" y1="97.70" x2="375.20" y2="117.70" stroke="#222" stroke-width="0.8"/>
<line x1="373.50" y1="97.70" x2="376.90" y2="97.70" stroke="#222" stroke-width="0.8"/>
<line x1="373.50" y1="117.70" x2="376.90" y2="117.70" stroke="#222" stroke-width="0.8"/>
<line x1="402.05" y1="90.80" x2="402.05" y2="106.80" stroke="#222" stroke-width="0.8"/>
<line x1="400.35" y1="90.80" x2="403.75" y2="90.80" stroke="#222" stroke-width="0.8"/>
<line x1="400.35" y1="106.80" x2="403.75" y2="106.80" stroke="#222" stroke-width="0.8"/>
<line x1="428.90" y1="96.20" x2="428.90" y2="116.20" stroke="#222" stroke-width="0.8"/>
<line x1="427.20" y1="96.20" x2="430.60" y2="96.20" stroke="#222" stroke-width="0.8"/>
<line x1="427.20" y1="116.20" x2="430.60" y2="116.20" stroke="#222" stroke-width="0.8"/>
<line x1="455.75" y1="95.80" x2="455.75" y2="107.80" stroke="#222" stroke-width="0.8"/>
<line x1="454.05" y1="95.80" x2="457.45" y2="95.80" stroke="#222" stroke-width="0.8"/>
<line x1="454.05" y1="107.80" x2="457.45" y2="107.80" stroke="#222" stroke-width="0.8"/>
<line x1="482.60" y1="86.60" x2="482.60" y2="98.60" stroke="#222" stroke-width="0.8"/>
<line x1="480.90" y1="86.60" x2="484.30" y2="86.60" stroke="#222" stroke-width="0.8"/>
<line x1="480.90" y1="98.60" x2="484.30" y2="98.60" stroke="#222" stroke-width="0.8"/>
<line x1="509.45" y1="56.00" x2="509.45" y2="68.00" stroke="#222" stroke-width="0.8"/>
<line x1="507.75" y1="56.00" x2="511.15" y2="56.00" stroke="#222" stroke-width="0.8"/>
<line x1="507.75" y1="68.00" x2="511.15" y2="68.00" stroke="#222" stroke-width="0.8"/>
<line x1="536.30" y1="28.00" x2="536.30" y2="39.00" stroke="#222" stroke-width="0.8"/>
<line x1="534.60" y1="28.00" x2="538.00" y2="28.00" stroke="#222" stroke-width="0.8"/>
<line x1="534.60" y1="39.00" x2="538.00" y2="39.00" stroke="#222" stroke-width="0.8"/>
<line x1="563.15" y1="52.60" x2="563.15" y2="66.60" stroke="#222" stroke-width="0.8"/>
<line x1="561.45" y1="52.60" x2="564.85" y2="52.60" stroke="#222" stroke-width="0.8"/>
<line x1="561.45" y1="66.60" x2="564.85" y2="66.60" stroke="#222" stroke-width="0.8"/>
<line x1="590.00" y1="85.60" x2="590.00" y2="95.60" stroke="#222" stroke-width="0.8"/>
<line x1="588.30" y1="85.60" x2="591.70" y2="85.60" stroke="#222" stroke-width="0.8"/>
<line x1="588.30" y1="95.60" x2="591.70" y2="95.60" stroke="#222" stroke-width="0.8"/>
<line x1="616.85" y1="87.50" x2="616.85" y2="105.50" stroke="#222" stroke-width="0.8"/>
<line x1="615.15" y1="87.50" x2="618.55" y2="87.50" stroke="#222" stroke-width="0.8"/>
<line x1="615.15" y1="105.50" x2="618.55" y2="105.50" stroke="#222" stroke-width="0.8"/>
<line x1="643.70" y1="102.00" x2="643.70" y2="114.00" stroke="#222" stroke-width="0.8"/>
<line x1="642.00" y1="102.00" x2="645.40" y2="102.00" stroke="#222" stroke-width="0.8"/>
<line x1="642.00" y1="114.00" x2="645.40" y2="114.00" stroke="#222" stroke-width="0.8"/>
<line x1="670.55" y1="92.80" x2="670.55" y2="112.80" stroke="#222" stroke-width="0.8"/>
<line x1="668.85" y1="92.80" x2="672.25" y2="92.80" stroke="#222" stroke-width="0.8"/>
<line x1="668.85" y1="112.80" x2="672.25" y2="112.80" stroke="#222" stroke-width="0.8"/>
<path d="M375.20 137.70L379.20 141.70L375.20 145.70L371.20 141.70Z" fill="#000"/>
<path d="M402.05 125.10L406.05 129.10L402.05 133.10L398.05 129.10Z" fill="#000"/>
<path d="M428.90 128.80L432.90 132.80L428.90 136.80L424.90 132.80Z" fill="#000"/>
<path d="M455.75 123.60L459.75 127.60L455.75 131.60L451.75 127.60Z" fill="#000"/>
<path d="M482.60 125.80L486.60 129.80L482.60 133.80L478.60 129.80Z" fill="#000"/>
<path d="M509.45 113.20L513.45 117.20L509.45 121.20L505.45 117.20Z" fill="#000"/>
<path d="M536.30 110.40L540.30 114.40L536.30 118.40L532.30 114.40Z" fill="#000"/>
<path d="M563.15 111.90L567.15 115.90L563.15 119.90L559.15 115.90Z" fill="#000"/>
<path d="M590.00 118.90L594.00 122.90L590.00 126.90L586.00 122.90Z" fill="#000"/>
<path d="M616.85 120.10L620.85 124.10L616.85 128.10L612.85 124.10Z" fill="#000"/>
<path d="M643.70 122.80L647.70 126.80L643.70 130.80L639.70 126.80Z" fill="#000"/>
<path d="M670.55 115.40L674.55 119.40L670.55 123.40L666.55 119.40Z" fill="#000"/>
<rect x="371.55" y="119.75" width="7.30" height="7.30" fill="#000"/>
<rect x="398.40" y="125.65" width="7.30" height="7.30" fill="#000"/>
<rect x="425.25" y="119.75" width="7.30" height="7.30" fill="#000"/>
<rect x="452.10" y="110.05" width="7.30" height="7.30" fill="#000"/>
<rect x="478.95" y="108.25" width="7.30" height="7.30" fill="#000"/>
<rect x="505.80" y="88.15" width="7.30" height="7.30" fill="#000"/>
<rect x="532.65" y="78.25" width="7.30" height="7.30" fill="#000"/>
<rect x="559.50" y="103.55" width="7.30" height="7.30" fill="#000"/>
<rect x="586.35" y="111.55" width="7.30" height="7.30" fill="#000"/>
<rect x="613.20" y="118.95" width="7.30" height="7.30" fill="#000"/>
<rect x="640.05" y="112.25" width="7.30" height="7.30" fill="#000"/>
<rect x="666.90" y="113.55" width="7.30" height="7.30" fill="#000"/>
<path d="M375.20 107.40L379.00 115.00L371.40 115.00Z" fill="#000"/>
<path d="M402.05 101.20L405.85 108.80L398.25 108.80Z" fill="#000"/>
<path d="M428.90 102.90L432.70 110.50L425.10 110.50Z" fill="#000"/>
<path d="M455.75 92.00L459.55 99.60L451.95 99.60Z" fill="#000"/>
<path d="M482.60 86.00L486.40 93.60L478.80 93.60Z" fill="#000"/>
<path d="M509.45 68.20L513.25 75.80L505.65 75.80Z" fill="#000"/>
<path d="M536.30 48.30L540.10 55.90L532.50 55.90Z" fill="#000"/>
<path d="M563.15 69.70L566.95 77.30L559.35 77.30Z" fill="#000"/>
<path d="M590.00 78.90L593.80 86.50L586.20 86.50Z" fill="#000"/>
<path d="M616.85 111.60L620.65 119.20L613.05 119.20Z" fill="#000"/>
<path d="M643.70 111.70L647.50 119.30L639.90 119.30Z" fill="#000"/>
<path d="M670.55 101.70L674.35 109.30L666.75 109.30Z" fill="#000"/>
<circle cx="375.20" cy="107.70" r="4.05" fill="#000"/>
<circle cx="402.05" cy="98.80" r="4.05" fill="#000"/>
<circle cx="428.90" cy="106.20" r="4.05" fill="#000"/>
<circle cx="455.75" cy="101.80" r="4.05" fill="#000"/>
<circle cx="482.60" cy="92.60" r="4.05" fill="#000"/>
<circle cx="509.45" cy="62.00" r="4.05" fill="#000"/>
<circle cx="536.30" cy="33.50" r="4.05" fill="#000"/>
<circle cx="563.15" cy="59.60" r="4.05" fill="#000"/>
<circle cx="590.00" cy="90.60" r="4.05" fill="#000"/>
<circle cx="616.85" cy="96.50" r="4.05" fill="#000"/>
<circle cx="643.70" cy="108.00" r="4.05" fill="#000"/>
<circle cx="670.55" cy="102.80" r="4.05" fill="#000"/>
<line x1="596.90" y1="6.90" x2="610.90" y2="6.90" stroke="#505050" stroke-width="0.8"/>
<path d="M603.90 3.38L607.42 6.90L603.90 10.42L600.38 6.90Z" fill="#000"/>
<text x="612.30" y="10.20" font-size="10.15" text-anchor="start" >DN425(0kpa)</text>
<line x1="596.90" y1="22.60" x2="610.90" y2="22.60" stroke="#505050" stroke-width="0.8"/>
<rect x="600.69" y="19.39" width="6.42" height="6.42" fill="#000"/>
<text x="612.30" y="25.90" font-size="10.15" text-anchor="start" >DN425(-10kpa)</text>
<line x1="596.90" y1="38.20" x2="610.90" y2="38.20" stroke="#505050" stroke-width="0.8"/>
<path d="M603.90 34.86L607.24 41.54L600.56 41.54Z" fill="#000"/>
<text x="612.30" y="41.50" font-size="10.15" text-anchor="start" >DN425(-25kpa)</text>
<line x1="596.90" y1="53.90" x2="610.90" y2="53.90" stroke="#505050" stroke-width="0.8"/>
<circle cx="603.90" cy="53.90" r="3.56" fill="#000"/>
<text x="612.30" y="57.20" font-size="10.15" text-anchor="start" >DN425(-40kpa)</text>
<line x1="40.50" y1="385.40" x2="40.50" y2="569.60" stroke="#5a5a5a" stroke-width="1.0"/>
<line x1="40.20" y1="533.50" x2="326.70" y2="533.50" stroke="#5a5a5a" stroke-width="1.0"/>
<line x1="207.50" y1="533.60" x2="207.50" y2="569.60" stroke="#5a5a5a" stroke-width="1.0"/>
<line x1="326.50" y1="533.60" x2="326.50" y2="569.60" stroke="#5a5a5a" stroke-width="1.0"/>
<text x="29.00" y="389.00" font-size="10" text-anchor="end" >2.5</text>
<text x="29.00" y="418.60" font-size="10" text-anchor="end" >2.0</text>
<text x="29.00" y="448.20" font-size="10" text-anchor="end" >1.5</text>
<text x="29.00" y="477.90" font-size="10" text-anchor="end" >1.0</text>
<text x="29.00" y="507.50" font-size="10" text-anchor="end" >0.5</text>
<text x="29.00" y="537.10" font-size="10" text-anchor="end" >0.0</text>
<text transform="translate(8.90 469.70) rotate(-90)" font-size="10" text-anchor="middle">soluble sugar content(g /100g FW)</text>
<text x="61.80" y="408.00" font-size="12.6" text-anchor="start" >C</text>
<text x="52.40" y="548.60" font-size="10" text-anchor="middle" letter-spacing="0.4" >D3</text>
<text x="76.30" y="548.60" font-size="10" text-anchor="middle" letter-spacing="0.4" >D6</text>
<text x="100.10" y="548.60" font-size="10" text-anchor="middle" letter-spacing="0.4" >D9</text>
<text x="124.00" y="548.60" font-size="10" text-anchor="middle" letter-spacing="0.4" >D12</text>
<text x="147.80" y="548.60" font-size="10" text-anchor="middle" letter-spacing="0.4" >D15</text>
<text x="171.60" y="548.60" font-size="10" text-anchor="middle" letter-spacing="0.4" >D18</text>
<text x="195.50" y="548.60" font-size="10" text-anchor="middle" letter-spacing="0.4" >D21</text>
<text x="219.20" y="548.60" font-size="10" text-anchor="middle" letter-spacing="0.4" >R3</text>
<text x="243.10" y="548.60" font-size="10" text-anchor="middle" letter-spacing="0.4" >R6</text>
<text x="266.90" y="548.60" font-size="10" text-anchor="middle" letter-spacing="0.4" >R9</text>
<text x="290.70" y="548.60" font-size="10" text-anchor="middle" letter-spacing="0.4" >R12</text>
<text x="314.50" y="548.60" font-size="10" text-anchor="middle" letter-spacing="0.4" >R15</text>
<text x="123.76" y="567.60" font-size="10" text-anchor="middle" letter-spacing="0.82" word-spacing="1.2">DROUGHT STRESS(DAYS)</text>
<text x="267.01" y="567.60" font-size="10" text-anchor="middle" letter-spacing="0.86" >RE-WATERING(DAYS)</text>
<polyline points="52.40,516.50 76.30,512.50 100.10,505.70 124.00,501.50 147.80,490.30 171.60,488.90 195.50,476.80 219.20,486.60 243.10,493.30 266.90,493.60 290.70,495.90 314.50,500.30" fill="none" stroke="#505050" stroke-width="0.75"/>
<polyline points="52.40,509.00 76.30,495.90 100.10,488.90 124.00,475.10 147.80,467.40 171.60,466.70 195.50,457.50 219.20,462.70 243.10,477.20 266.90,476.10 290.70,480.70 314.50,490.10" fill="none" stroke="#505050" stroke-width="0.75"/>
<polyline points="52.40,502.90 76.30,486.60 100.10,473.30 124.00,470.90 147.80,452.90 171.60,449.20 195.50,443.80 219.20,459.20 243.10,472.10 266.90,473.30 290.70,477.90 314.50,487.30" fill="none" stroke="#505050" stroke-width="0.75"/>
<polyline points="52.40,497.80 76.30,478.20 100.10,472.10 124.00,457.40 147.80,446.90 171.60,445.20 195.50,421.40 219.20,457.60 243.10,462.70 266.90,470.90 290.70,473.30 314.50,484.50" fill="none" stroke="#505050" stroke-width="0.75"/>
<line x1="147.80" y1="486.30" x2="147.80" y2="494.30" stroke="#222" stroke-width="0.8"/>
<line x1="146.10" y1="486.30" x2="149.50" y2="486.30" stroke="#222" stroke-width="0.8"/>
<line x1="146.10" y1="494.30" x2="149.50" y2="494.30" stroke="#222" stroke-width="0.8"/>
<line x1="171.60" y1="484.90" x2="171.60" y2="492.90" stroke="#222" stroke-width="0.8"/>
<line x1="169.90" y1="484.90" x2="173.30" y2="484.90" stroke="#222" stroke-width="0.8"/>
<line x1="169.90" y1="492.90" x2="173.30" y2="492.90" stroke="#222" stroke-width="0.8"/>
<line x1="195.50" y1="471.40" x2="195.50" y2="482.20" stroke="#222" stroke-width="0.8"/>
<line x1="193.80" y1="471.40" x2="197.20" y2="471.40" stroke="#222" stroke-width="0.8"/>
<line x1="193.80" y1="482.20" x2="197.20" y2="482.20" stroke="#222" stroke-width="0.8"/>
<line x1="219.20" y1="482.10" x2="219.20" y2="491.10" stroke="#222" stroke-width="0.8"/>
<line x1="217.50" y1="482.10" x2="220.90" y2="482.10" stroke="#222" stroke-width="0.8"/>
<line x1="217.50" y1="491.10" x2="220.90" y2="491.10" stroke="#222" stroke-width="0.8"/>
<line x1="243.10" y1="489.80" x2="243.10" y2="496.80" stroke="#222" stroke-width="0.8"/>
<line x1="241.40" y1="489.80" x2="244.80" y2="489.80" stroke="#222" stroke-width="0.8"/>
<line x1="241.40" y1="496.80" x2="244.80" y2="496.80" stroke="#222" stroke-width="0.8"/>
<line x1="266.90" y1="490.10" x2="266.90" y2="497.10" stroke="#222" stroke-width="0.8"/>
<line x1="265.20" y1="490.10" x2="268.60" y2="490.10" stroke="#222" stroke-width="0.8"/>
<line x1="265.20" y1="497.10" x2="268.60" y2="497.10" stroke="#222" stroke-width="0.8"/>
<line x1="290.70" y1="492.40" x2="290.70" y2="499.40" stroke="#222" stroke-width="0.8"/>
<line x1="289.00" y1="492.40" x2="292.40" y2="492.40" stroke="#222" stroke-width="0.8"/>
<line x1="289.00" y1="499.40" x2="292.40" y2="499.40" stroke="#222" stroke-width="0.8"/>
<line x1="124.00" y1="472.10" x2="124.00" y2="478.10" stroke="#222" stroke-width="0.8"/>
<line x1="122.30" y1="472.10" x2="125.70" y2="472.10" stroke="#222" stroke-width="0.8"/>
<line x1="122.30" y1="478.10" x2="125.70" y2="478.10" stroke="#222" stroke-width="0.8"/>
<line x1="147.80" y1="462.90" x2="147.80" y2="471.90" stroke="#222" stroke-width="0.8"/>
<line x1="146.10" y1="462.90" x2="149.50" y2="462.90" stroke="#222" stroke-width="0.8"/>
<line x1="146.10" y1="471.90" x2="149.50" y2="471.90" stroke="#222" stroke-width="0.8"/>
<line x1="171.60" y1="462.20" x2="171.60" y2="471.20" stroke="#222" stroke-width="0.8"/>
<line x1="169.90" y1="462.20" x2="173.30" y2="462.20" stroke="#222" stroke-width="0.8"/>
<line x1="169.90" y1="471.20" x2="173.30" y2="471.20" stroke="#222" stroke-width="0.8"/>
<line x1="195.50" y1="452.50" x2="195.50" y2="462.50" stroke="#222" stroke-width="0.8"/>
<line x1="193.80" y1="452.50" x2="197.20" y2="452.50" stroke="#222" stroke-width="0.8"/>
<line x1="193.80" y1="462.50" x2="197.20" y2="462.50" stroke="#222" stroke-width="0.8"/>
<line x1="219.20" y1="459.70" x2="219.20" y2="465.70" stroke="#222" stroke-width="0.8"/>
<line x1="217.50" y1="459.70" x2="220.90" y2="459.70" stroke="#222" stroke-width="0.8"/>
<line x1="217.50" y1="465.70" x2="220.90" y2="465.70" stroke="#222" stroke-width="0.8"/>
<line x1="243.10" y1="474.20" x2="243.10" y2="480.20" stroke="#222" stroke-width="0.8"/>
<line x1="241.40" y1="474.20" x2="244.80" y2="474.20" stroke="#222" stroke-width="0.8"/>
<line x1="241.40" y1="480.20" x2="244.80" y2="480.20" stroke="#222" stroke-width="0.8"/>
<line x1="266.90" y1="473.10" x2="266.90" y2="479.10" stroke="#222" stroke-width="0.8"/>
<line x1="265.20" y1="473.10" x2="268.60" y2="473.10" stroke="#222" stroke-width="0.8"/>
<line x1="265.20" y1="479.10" x2="268.60" y2="479.10" stroke="#222" stroke-width="0.8"/>
<line x1="290.70" y1="477.70" x2="290.70" y2="483.70" stroke="#222" stroke-width="0.8"/>
<line x1="289.00" y1="477.70" x2="292.40" y2="477.70" stroke="#222" stroke-width="0.8"/>
<line x1="289.00" y1="483.70" x2="292.40" y2="483.70" stroke="#222" stroke-width="0.8"/>
<line x1="100.10" y1="470.30" x2="100.10" y2="476.30" stroke="#222" stroke-width="0.8"/>
<line x1="98.40" y1="470.30" x2="101.80" y2="470.30" stroke="#222" stroke-width="0.8"/>
<line x1="98.40" y1="476.30" x2="101.80" y2="476.30" stroke="#222" stroke-width="0.8"/>
<line x1="124.00" y1="465.90" x2="124.00" y2="475.90" stroke="#222" stroke-width="0.8"/>
<line x1="122.30" y1="465.90" x2="125.70" y2="465.90" stroke="#222" stroke-width="0.8"/>
<line x1="122.30" y1="475.90" x2="125.70" y2="475.90" stroke="#222" stroke-width="0.8"/>
<line x1="147.80" y1="448.90" x2="147.80" y2="456.90" stroke="#222" stroke-width="0.8"/>
<line x1="146.10" y1="448.90" x2="149.50" y2="448.90" stroke="#222" stroke-width="0.8"/>
<line x1="146.10" y1="456.90" x2="149.50" y2="456.90" stroke="#222" stroke-width="0.8"/>
<line x1="171.60" y1="444.20" x2="171.60" y2="454.20" stroke="#222" stroke-width="0.8"/>
<line x1="169.90" y1="444.20" x2="173.30" y2="444.20" stroke="#222" stroke-width="0.8"/>
<line x1="169.90" y1="454.20" x2="173.30" y2="454.20" stroke="#222" stroke-width="0.8"/>
<line x1="195.50" y1="437.30" x2="195.50" y2="450.30" stroke="#222" stroke-width="0.8"/>
<line x1="193.80" y1="437.30" x2="197.20" y2="437.30" stroke="#222" stroke-width="0.8"/>
<line x1="193.80" y1="450.30" x2="197.20" y2="450.30" stroke="#222" stroke-width="0.8"/>
<line x1="219.20" y1="456.20" x2="219.20" y2="462.20" stroke="#222" stroke-width="0.8"/>
<line x1="217.50" y1="456.20" x2="220.90" y2="456.20" stroke="#222" stroke-width="0.8"/>
<line x1="217.50" y1="462.20" x2="220.90" y2="462.20" stroke="#222" stroke-width="0.8"/>
<line x1="243.10" y1="469.10" x2="243.10" y2="475.10" stroke="#222" stroke-width="0.8"/>
<line x1="241.40" y1="469.10" x2="244.80" y2="469.10" stroke="#222" stroke-width="0.8"/>
<line x1="241.40" y1="475.10" x2="244.80" y2="475.10" stroke="#222" stroke-width="0.8"/>
<line x1="266.90" y1="470.30" x2="266.90" y2="476.30" stroke="#222" stroke-width="0.8"/>
<line x1="265.20" y1="470.30" x2="268.60" y2="470.30" stroke="#222" stroke-width="0.8"/>
<line x1="265.20" y1="476.30" x2="268.60" y2="476.30" stroke="#222" stroke-width="0.8"/>
<line x1="290.70" y1="474.90" x2="290.70" y2="480.90" stroke="#222" stroke-width="0.8"/>
<line x1="289.00" y1="474.90" x2="292.40" y2="474.90" stroke="#222" stroke-width="0.8"/>
<line x1="289.00" y1="480.90" x2="292.40" y2="480.90" stroke="#222" stroke-width="0.8"/>
<line x1="76.30" y1="475.20" x2="76.30" y2="481.20" stroke="#222" stroke-width="0.8"/>
<line x1="74.60" y1="475.20" x2="78.00" y2="475.20" stroke="#222" stroke-width="0.8"/>
<line x1="74.60" y1="481.20" x2="78.00" y2="481.20" stroke="#222" stroke-width="0.8"/>
<line x1="100.10" y1="469.10" x2="100.10" y2="475.10" stroke="#222" stroke-width="0.8"/>
<line x1="98.40" y1="469.10" x2="101.80" y2="469.10" stroke="#222" stroke-width="0.8"/>
<line x1="98.40" y1="475.10" x2="101.80" y2="475.10" stroke="#222" stroke-width="0.8"/>
<line x1="124.00" y1="452.40" x2="124.00" y2="462.40" stroke="#222" stroke-width="0.8"/>
<line x1="122.30" y1="452.40" x2="125.70" y2="452.40" stroke="#222" stroke-width="0.8"/>
<line x1="122.30" y1="462.40" x2="125.70" y2="462.40" stroke="#222" stroke-width="0.8"/>
<line x1="147.80" y1="441.90" x2="147.80" y2="451.90" stroke="#222" stroke-width="0.8"/>
<line x1="146.10" y1="441.90" x2="149.50" y2="441.90" stroke="#222" stroke-width="0.8"/>
<line x1="146.10" y1="451.90" x2="149.50" y2="451.90" stroke="#222" stroke-width="0.8"/>
<line x1="171.60" y1="440.20" x2="171.60" y2="450.20" stroke="#222" stroke-width="0.8"/>
<line x1="169.90" y1="440.20" x2="173.30" y2="440.20" stroke="#222" stroke-width="0.8"/>
<line x1="169.90" y1="450.20" x2="173.30" y2="450.20" stroke="#222" stroke-width="0.8"/>
<line x1="195.50" y1="413.40" x2="195.50" y2="429.40" stroke="#222" stroke-width="0.8"/>
<line x1="193.80" y1="413.40" x2="197.20" y2="413.40" stroke="#222" stroke-width="0.8"/>
<line x1="193.80" y1="429.40" x2="197.20" y2="429.40" stroke="#222" stroke-width="0.8"/>
<line x1="219.20" y1="452.60" x2="219.20" y2="462.60" stroke="#222" stroke-width="0.8"/>
<line x1="217.50" y1="452.60" x2="220.90" y2="452.60" stroke="#222" stroke-width="0.8"/>
<line x1="217.50" y1="462.60" x2="220.90" y2="462.60" stroke="#222" stroke-width="0.8"/>
<line x1="243.10" y1="457.70" x2="243.10" y2="467.70" stroke="#222" stroke-width="0.8"/>
<line x1="241.40" y1="457.70" x2="244.80" y2="457.70" stroke="#222" stroke-width="0.8"/>
<line x1="241.40" y1="467.70" x2="244.80" y2="467.70" stroke="#222" stroke-width="0.8"/>
<line x1="266.90" y1="467.90" x2="266.90" y2="473.90" stroke="#222" stroke-width="0.8"/>
<line x1="265.20" y1="467.90" x2="268.60" y2="467.90" stroke="#222" stroke-width="0.8"/>
<line x1="265.20" y1="473.90" x2="268.60" y2="473.90" stroke="#222" stroke-width="0.8"/>
<line x1="290.70" y1="470.30" x2="290.70" y2="476.30" stroke="#222" stroke-width="0.8"/>
<line x1="289.00" y1="470.30" x2="292.40" y2="470.30" stroke="#222" stroke-width="0.8"/>
<line x1="289.00" y1="476.30" x2="292.40" y2="476.30" stroke="#222" stroke-width="0.8"/>
<path d="M52.40 512.50L56.40 516.50L52.40 520.50L48.40 516.50Z" fill="#000"/>
<path d="M76.30 508.50L80.30 512.50L76.30 516.50L72.30 512.50Z" fill="#000"/>
<path d="M100.10 501.70L104.10 505.70L100.10 509.70L96.10 505.70Z" fill="#000"/>
<path d="M124.00 497.50L128.00 501.50L124.00 505.50L120.00 501.50Z" fill="#000"/>
<path d="M147.80 486.30L151.80 490.30L147.80 494.30L143.80 490.30Z" fill="#000"/>
<path d="M171.60 484.90L175.60 488.90L171.60 492.90L167.60 488.90Z" fill="#000"/>
<path d="M195.50 472.80L199.50 476.80L195.50 480.80L191.50 476.80Z" fill="#000"/>
<path d="M219.20 482.60L223.20 486.60L219.20 490.60L215.20 486.60Z" fill="#000"/>
<path d="M243.10 489.30L247.10 493.30L243.10 497.30L239.10 493.30Z" fill="#000"/>
<path d="M266.90 489.60L270.90 493.60L266.90 497.60L262.90 493.60Z" fill="#000"/>
<path d="M290.70 491.90L294.70 495.90L290.70 499.90L286.70 495.90Z" fill="#000"/>
<path d="M314.50 496.30L318.50 500.30L314.50 504.30L310.50 500.30Z" fill="#000"/>
<rect x="48.75" y="505.35" width="7.30" height="7.30" fill="#000"/>
<rect x="72.65" y="492.25" width="7.30" height="7.30" fill="#000"/>
<rect x="96.45" y="485.25" width="7.30" height="7.30" fill="#000"/>
<rect x="120.35" y="471.45" width="7.30" height="7.30" fill="#000"/>
<rect x="144.15" y="463.75" width="7.30" height="7.30" fill="#000"/>
<rect x="167.95" y="463.05" width="7.30" height="7.30" fill="#000"/>
<rect x="191.85" y="453.85" width="7.30" height="7.30" fill="#000"/>
<rect x="215.55" y="459.05" width="7.30" height="7.30" fill="#000"/>
<rect x="239.45" y="473.55" width="7.30" height="7.30" fill="#000"/>
<rect x="263.25" y="472.45" width="7.30" height="7.30" fill="#000"/>
<rect x="287.05" y="477.05" width="7.30" height="7.30" fill="#000"/>
<rect x="310.85" y="486.45" width="7.30" height="7.30" fill="#000"/>
<path d="M52.40 499.10L56.20 506.70L48.60 506.70Z" fill="#000"/>
<path d="M76.30 482.80L80.10 490.40L72.50 490.40Z" fill="#000"/>
<path d="M100.10 469.50L103.90 477.10L96.30 477.10Z" fill="#000"/>
<path d="M124.00 467.10L127.80 474.70L120.20 474.70Z" fill="#000"/>
<path d="M147.80 449.10L151.60 456.70L144.00 456.70Z" fill="#000"/>
<path d="M171.60 445.40L175.40 453.00L167.80 453.00Z" fill="#000"/>
<path d="M195.50 440.00L199.30 447.60L191.70 447.60Z" fill="#000"/>
<path d="M219.20 455.40L223.00 463.00L215.40 463.00Z" fill="#000"/>
<path d="M243.10 468.30L246.90 475.90L239.30 475.90Z" fill="#000"/>
<path d="M266.90 469.50L270.70 477.10L263.10 477.10Z" fill="#000"/>
<path d="M290.70 474.10L294.50 481.70L286.90 481.70Z" fill="#000"/>
<path d="M314.50 483.50L318.30 491.10L310.70 491.10Z" fill="#000"/>
<circle cx="52.40" cy="497.80" r="4.05" fill="#000"/>
<circle cx="76.30" cy="478.20" r="4.05" fill="#000"/>
<circle cx="100.10" cy="472.10" r="4.05" fill="#000"/>
<circle cx="124.00" cy="457.40" r="4.05" fill="#000"/>
<circle cx="147.80" cy="446.90" r="4.05" fill="#000"/>
<circle cx="171.60" cy="445.20" r="4.05" fill="#000"/>
<circle cx="195.50" cy="421.40" r="4.05" fill="#000"/>
<circle cx="219.20" cy="457.60" r="4.05" fill="#000"/>
<circle cx="243.10" cy="462.70" r="4.05" fill="#000"/>
<circle cx="266.90" cy="470.90" r="4.05" fill="#000"/>
<circle cx="290.70" cy="473.30" r="4.05" fill="#000"/>
<circle cx="314.50" cy="484.50" r="4.05" fill="#000"/>
<line x1="-107.00" y1="-50.00" x2="-93.00" y2="-50.00" stroke="#505050" stroke-width="0.8"/>
<path d="M-100.00 -53.52L-96.48 -50.00L-100.00 -46.48L-103.52 -50.00Z" fill="#000"/>
<text x="-100.00" y="-46.70" font-size="10.15" text-anchor="start" ></text>
<line x1="-107.00" y1="-50.00" x2="-93.00" y2="-50.00" stroke="#505050" stroke-width="0.8"/>
<rect x="-103.21" y="-53.21" width="6.42" height="6.42" fill="#000"/>
<text x="-100.00" y="-46.70" font-size="10.15" text-anchor="start" ></text>
<line x1="-107.00" y1="-50.00" x2="-93.00" y2="-50.00" stroke="#505050" stroke-width="0.8"/>
<path d="M-100.00 -53.34L-96.66 -46.66L-103.34 -46.66Z" fill="#000"/>
<text x="-100.00" y="-46.70" font-size="10.15" text-anchor="start" ></text>
<line x1="-107.00" y1="-50.00" x2="-93.00" y2="-50.00" stroke="#505050" stroke-width="0.8"/>
<circle cx="-100.00" cy="-50.00" r="3.56" fill="#000"/>
<text x="-100.00" y="-46.70" font-size="10.15" text-anchor="start" ></text>
<line x1="362.50" y1="384.30" x2="362.50" y2="569.40" stroke="#5a5a5a" stroke-width="1.0"/>
<line x1="362.50" y1="533.50" x2="678.00" y2="533.50" stroke="#5a5a5a" stroke-width="1.0"/>
<line x1="546.50" y1="533.50" x2="546.50" y2="569.40" stroke="#5a5a5a" stroke-width="1.0"/>
<line x1="678.50" y1="533.50" x2="678.50" y2="569.40" stroke="#5a5a5a" stroke-width="1.0"/>
<text x="350.80" y="387.40" font-size="10" text-anchor="end" >2.5</text>
<text x="350.80" y="417.00" font-size="10" text-anchor="end" >2.0</text>
<text x="350.80" y="447.10" font-size="10" text-anchor="end" >1.5</text>
<text x="350.80" y="477.10" font-size="10" text-anchor="end" >1.0</text>
<text x="350.80" y="507.00" font-size="10" text-anchor="end" >0.5</text>
<text x="350.80" y="536.80" font-size="10" text-anchor="end" >0.0</text>
<text transform="translate(0.00 0.00) rotate(-90)" font-size="10" text-anchor="middle"></text>
<text x="401.60" y="406.50" font-size="12.6" text-anchor="start" >D</text>
<text x="375.60" y="548.60" font-size="10" text-anchor="middle" letter-spacing="0.4" >D3</text>
<text x="401.70" y="548.60" font-size="10" text-anchor="middle" letter-spacing="0.4" >D6</text>
<text x="427.90" y="548.60" font-size="10" text-anchor="middle" letter-spacing="0.4" >D9</text>
<text x="454.40" y="548.60" font-size="10" text-anchor="middle" letter-spacing="0.4" >D12</text>
<text x="480.60" y="548.60" font-size="10" text-anchor="middle" letter-spacing="0.4" >D15</text>
<text x="507.00" y="548.60" font-size="10" text-anchor="middle" letter-spacing="0.4" >D18</text>
<text x="532.80" y="548.60" font-size="10" text-anchor="middle" letter-spacing="0.4" >D21</text>
<text x="559.20" y="548.60" font-size="10" text-anchor="middle" letter-spacing="0.4" >R3</text>
<text x="585.40" y="548.60" font-size="10" text-anchor="middle" letter-spacing="0.4" >R6</text>
<text x="611.70" y="548.60" font-size="10" text-anchor="middle" letter-spacing="0.4" >R9</text>
<text x="638.10" y="548.60" font-size="10" text-anchor="middle" letter-spacing="0.4" >R12</text>
<text x="664.20" y="548.60" font-size="10" text-anchor="middle" letter-spacing="0.4" >R15</text>
<text x="454.52" y="567.40" font-size="10" text-anchor="middle" letter-spacing="0.82" word-spacing="1.2">DROUGHT STRESS(DAYS)</text>
<text x="612.27" y="567.40" font-size="10" text-anchor="middle" letter-spacing="0.86" >RE-WATERING(DAYS)</text>
<polyline points="375.60,519.80 401.70,518.00 427.90,502.10 454.40,495.10 480.60,495.10 507.00,488.10 532.80,475.30 559.20,475.30 585.40,480.80 611.70,497.20 638.10,490.20 664.20,501.10" fill="none" stroke="#505050" stroke-width="0.75"/>
<polyline points="375.60,507.60 401.70,504.40 427.90,482.60 454.40,468.80 480.60,462.90 507.00,462.60 532.80,436.90 559.20,444.40 585.40,474.60 611.70,486.30 638.10,488.10 664.20,481.60" fill="none" stroke="#505050" stroke-width="0.75"/>
<polyline points="375.60,504.00 401.70,482.40 427.90,479.40 454.40,457.40 480.60,448.30 507.00,447.80 532.80,427.00 559.20,438.70 585.40,467.30 611.70,462.10 638.10,466.50 664.20,478.30" fill="none" stroke="#505050" stroke-width="0.75"/>
<polyline points="375.60,502.90 401.70,472.70 427.90,464.40 454.40,455.60 480.60,433.50 507.00,431.40 532.80,412.20 559.20,422.60 585.40,451.40 611.70,458.70 638.10,462.10 664.20,481.60" fill="none" stroke="#505050" stroke-width="0.75"/>
<line x1="427.90" y1="499.10" x2="427.90" y2="505.10" stroke="#222" stroke-width="0.8"/>
<line x1="426.20" y1="499.10" x2="429.60" y2="499.10" stroke="#222" stroke-width="0.8"/>
<line x1="426.20" y1="505.10" x2="429.60" y2="505.10" stroke="#222" stroke-width="0.8"/>
<line x1="454.40" y1="491.10" x2="454.40" y2="499.10" stroke="#222" stroke-width="0.8"/>
<line x1="452.70" y1="491.10" x2="456.10" y2="491.10" stroke="#222" stroke-width="0.8"/>
<line x1="452.70" y1="499.10" x2="456.10" y2="499.10" stroke="#222" stroke-width="0.8"/>
<line x1="480.60" y1="491.10" x2="480.60" y2="499.10" stroke="#222" stroke-width="0.8"/>
<line x1="478.90" y1="491.10" x2="482.30" y2="491.10" stroke="#222" stroke-width="0.8"/>
<line x1="478.90" y1="499.10" x2="482.30" y2="499.10" stroke="#222" stroke-width="0.8"/>
<line x1="507.00" y1="483.10" x2="507.00" y2="493.10" stroke="#222" stroke-width="0.8"/>
<line x1="505.30" y1="483.10" x2="508.70" y2="483.10" stroke="#222" stroke-width="0.8"/>
<line x1="505.30" y1="493.10" x2="508.70" y2="493.10" stroke="#222" stroke-width="0.8"/>
<line x1="532.80" y1="469.30" x2="532.80" y2="481.30" stroke="#222" stroke-width="0.8"/>
<line x1="531.10" y1="469.30" x2="534.50" y2="469.30" stroke="#222" stroke-width="0.8"/>
<line x1="531.10" y1="481.30" x2="534.50" y2="481.30" stroke="#222" stroke-width="0.8"/>
<line x1="559.20" y1="469.30" x2="559.20" y2="481.30" stroke="#222" stroke-width="0.8"/>
<line x1="557.50" y1="469.30" x2="560.90" y2="469.30" stroke="#222" stroke-width="0.8"/>
<line x1="557.50" y1="481.30" x2="560.90" y2="481.30" stroke="#222" stroke-width="0.8"/>
<line x1="585.40" y1="474.80" x2="585.40" y2="486.80" stroke="#222" stroke-width="0.8"/>
<line x1="583.70" y1="474.80" x2="587.10" y2="474.80" stroke="#222" stroke-width="0.8"/>
<line x1="583.70" y1="486.80" x2="587.10" y2="486.80" stroke="#222" stroke-width="0.8"/>
<line x1="611.70" y1="493.20" x2="611.70" y2="501.20" stroke="#222" stroke-width="0.8"/>
<line x1="610.00" y1="493.20" x2="613.40" y2="493.20" stroke="#222" stroke-width="0.8"/>
<line x1="610.00" y1="501.20" x2="613.40" y2="501.20" stroke="#222" stroke-width="0.8"/>
<line x1="638.10" y1="485.20" x2="638.10" y2="495.20" stroke="#222" stroke-width="0.8"/>
<line x1="636.40" y1="485.20" x2="639.80" y2="485.20" stroke="#222" stroke-width="0.8"/>
<line x1="636.40" y1="495.20" x2="639.80" y2="495.20" stroke="#222" stroke-width="0.8"/>
<line x1="427.90" y1="479.60" x2="427.90" y2="485.60" stroke="#222" stroke-width="0.8"/>
<line x1="426.20" y1="479.60" x2="429.60" y2="479.60" stroke="#222" stroke-width="0.8"/>
<line x1="426.20" y1="485.60" x2="429.60" y2="485.60" stroke="#222" stroke-width="0.8"/>
<line x1="454.40" y1="462.80" x2="454.40" y2="474.80" stroke="#222" stroke-width="0.8"/>
<line x1="452.70" y1="462.80" x2="456.10" y2="462.80" stroke="#222" stroke-width="0.8"/>
<line x1="452.70" y1="474.80" x2="456.10" y2="474.80" stroke="#222" stroke-width="0.8"/>
<line x1="480.60" y1="456.90" x2="480.60" y2="468.90" stroke="#222" stroke-width="0.8"/>
<line x1="478.90" y1="456.90" x2="482.30" y2="456.90" stroke="#222" stroke-width="0.8"/>
<line x1="478.90" y1="468.90" x2="482.30" y2="468.90" stroke="#222" stroke-width="0.8"/>
<line x1="507.00" y1="456.60" x2="507.00" y2="468.60" stroke="#222" stroke-width="0.8"/>
<line x1="505.30" y1="456.60" x2="508.70" y2="456.60" stroke="#222" stroke-width="0.8"/>
<line x1="505.30" y1="468.60" x2="508.70" y2="468.60" stroke="#222" stroke-width="0.8"/>
<line x1="532.80" y1="430.90" x2="532.80" y2="442.90" stroke="#222" stroke-width="0.8"/>
<line x1="531.10" y1="430.90" x2="534.50" y2="430.90" stroke="#222" stroke-width="0.8"/>
<line x1="531.10" y1="442.90" x2="534.50" y2="442.90" stroke="#222" stroke-width="0.8"/>
<line x1="559.20" y1="436.40" x2="559.20" y2="452.40" stroke="#222" stroke-width="0.8"/>
<line x1="557.50" y1="436.40" x2="560.90" y2="436.40" stroke="#222" stroke-width="0.8"/>
<line x1="557.50" y1="452.40" x2="560.90" y2="452.40" stroke="#222" stroke-width="0.8"/>
<line x1="585.40" y1="469.60" x2="585.40" y2="479.60" stroke="#222" stroke-width="0.8"/>
<line x1="583.70" y1="469.60" x2="587.10" y2="469.60" stroke="#222" stroke-width="0.8"/>
<line x1="583.70" y1="479.60" x2="587.10" y2="479.60" stroke="#222" stroke-width="0.8"/>
<line x1="611.70" y1="483.30" x2="611.70" y2="489.30" stroke="#222" stroke-width="0.8"/>
<line x1="610.00" y1="483.30" x2="613.40" y2="483.30" stroke="#222" stroke-width="0.8"/>
<line x1="610.00" y1="489.30" x2="613.40" y2="489.30" stroke="#222" stroke-width="0.8"/>
<line x1="638.10" y1="485.10" x2="638.10" y2="491.10" stroke="#222" stroke-width="0.8"/>
<line x1="636.40" y1="485.10" x2="639.80" y2="485.10" stroke="#222" stroke-width="0.8"/>
<line x1="636.40" y1="491.10" x2="639.80" y2="491.10" stroke="#222" stroke-width="0.8"/>
<line x1="401.70" y1="478.40" x2="401.70" y2="486.40" stroke="#222" stroke-width="0.8"/>
<line x1="400.00" y1="478.40" x2="403.40" y2="478.40" stroke="#222" stroke-width="0.8"/>
<line x1="400.00" y1="486.40" x2="403.40" y2="486.40" stroke="#222" stroke-width="0.8"/>
<line x1="427.90" y1="474.40" x2="427.90" y2="484.40" stroke="#222" stroke-width="0.8"/>
<line x1="426.20" y1="474.40" x2="429.60" y2="474.40" stroke="#222" stroke-width="0.8"/>
<line x1="426.20" y1="484.40" x2="429.60" y2="484.40" stroke="#222" stroke-width="0.8"/>
<line x1="454.40" y1="452.40" x2="454.40" y2="462.40" stroke="#222" stroke-width="0.8"/>
<line x1="452.70" y1="452.40" x2="456.10" y2="452.40" stroke="#222" stroke-width="0.8"/>
<line x1="452.70" y1="462.40" x2="456.10" y2="462.40" stroke="#222" stroke-width="0.8"/>
<line x1="480.60" y1="442.30" x2="480.60" y2="454.30" stroke="#222" stroke-width="0.8"/>
<line x1="478.90" y1="442.30" x2="482.30" y2="442.30" stroke="#222" stroke-width="0.8"/>
<line x1="478.90" y1="454.30" x2="482.30" y2="454.30" stroke="#222" stroke-width="0.8"/>
<line x1="507.00" y1="441.80" x2="507.00" y2="453.80" stroke="#222" stroke-width="0.8"/>
<line x1="505.30" y1="441.80" x2="508.70" y2="441.80" stroke="#222" stroke-width="0.8"/>
<line x1="505.30" y1="453.80" x2="508.70" y2="453.80" stroke="#222" stroke-width="0.8"/>
<line x1="532.80" y1="421.00" x2="532.80" y2="433.00" stroke="#222" stroke-width="0.8"/>
<line x1="531.10" y1="421.00" x2="534.50" y2="421.00" stroke="#222" stroke-width="0.8"/>
<line x1="531.10" y1="433.00" x2="534.50" y2="433.00" stroke="#222" stroke-width="0.8"/>
<line x1="559.20" y1="432.70" x2="559.20" y2="444.70" stroke="#222" stroke-width="0.8"/>
<line x1="557.50" y1="432.70" x2="560.90" y2="432.70" stroke="#222" stroke-width="0.8"/>
<line x1="557.50" y1="444.70" x2="560.90" y2="444.70" stroke="#222" stroke-width="0.8"/>
<line x1="585.40" y1="462.30" x2="585.40" y2="472.30" stroke="#222" stroke-width="0.8"/>
<line x1="583.70" y1="462.30" x2="587.10" y2="462.30" stroke="#222" stroke-width="0.8"/>
<line x1="583.70" y1="472.30" x2="587.10" y2="472.30" stroke="#222" stroke-width="0.8"/>
<line x1="611.70" y1="458.10" x2="611.70" y2="466.10" stroke="#222" stroke-width="0.8"/>
<line x1="610.00" y1="458.10" x2="613.40" y2="458.10" stroke="#222" stroke-width="0.8"/>
<line x1="610.00" y1="466.10" x2="613.40" y2="466.10" stroke="#222" stroke-width="0.8"/>
<line x1="638.10" y1="462.50" x2="638.10" y2="470.50" stroke="#222" stroke-width="0.8"/>
<line x1="636.40" y1="462.50" x2="639.80" y2="462.50" stroke="#222" stroke-width="0.8"/>
<line x1="636.40" y1="470.50" x2="639.80" y2="470.50" stroke="#222" stroke-width="0.8"/>
<line x1="375.60" y1="499.90" x2="375.60" y2="505.90" stroke="#222" stroke-width="0.8"/>
<line x1="373.90" y1="499.90" x2="377.30" y2="499.90" stroke="#222" stroke-width="0.8"/>
<line x1="373.90" y1="505.90" x2="377.30" y2="505.90" stroke="#222" stroke-width="0.8"/>
<line x1="401.70" y1="467.70" x2="401.70" y2="477.70" stroke="#222" stroke-width="0.8"/>
<line x1="400.00" y1="467.70" x2="403.40" y2="467.70" stroke="#222" stroke-width="0.8"/>
<line x1="400.00" y1="477.70" x2="403.40" y2="477.70" stroke="#222" stroke-width="0.8"/>
<line x1="427.90" y1="459.40" x2="427.90" y2="469.40" stroke="#222" stroke-width="0.8"/>
<line x1="426.20" y1="459.40" x2="429.60" y2="459.40" stroke="#222" stroke-width="0.8"/>
<line x1="426.20" y1="469.40" x2="429.60" y2="469.40" stroke="#222" stroke-width="0.8"/>
<line x1="454.40" y1="449.60" x2="454.40" y2="461.60" stroke="#222" stroke-width="0.8"/>
<line x1="452.70" y1="449.60" x2="456.10" y2="449.60" stroke="#222" stroke-width="0.8"/>
<line x1="452.70" y1="461.60" x2="456.10" y2="461.60" stroke="#222" stroke-width="0.8"/>
<line x1="480.60" y1="426.50" x2="480.60" y2="440.50" stroke="#222" stroke-width="0.8"/>
<line x1="478.90" y1="426.50" x2="482.30" y2="426.50" stroke="#222" stroke-width="0.8"/>
<line x1="478.90" y1="440.50" x2="482.30" y2="440.50" stroke="#222" stroke-width="0.8"/>
<line x1="507.00" y1="423.40" x2="507.00" y2="439.40" stroke="#222" stroke-width="0.8"/>
<line x1="505.30" y1="423.40" x2="508.70" y2="423.40" stroke="#222" stroke-width="0.8"/>
<line x1="505.30" y1="439.40" x2="508.70" y2="439.40" stroke="#222" stroke-width="0.8"/>
<line x1="532.80" y1="403.20" x2="532.80" y2="421.20" stroke="#222" stroke-width="0.8"/>
<line x1="531.10" y1="403.20" x2="534.50" y2="403.20" stroke="#222" stroke-width="0.8"/>
<line x1="531.10" y1="421.20" x2="534.50" y2="421.20" stroke="#222" stroke-width="0.8"/>
<line x1="559.20" y1="413.60" x2="559.20" y2="431.60" stroke="#222" stroke-width="0.8"/>
<line x1="557.50" y1="413.60" x2="560.90" y2="413.60" stroke="#222" stroke-width="0.8"/>
<line x1="557.50" y1="431.60" x2="560.90" y2="431.60" stroke="#222" stroke-width="0.8"/>
<line x1="585.40" y1="445.40" x2="585.40" y2="457.40" stroke="#222" stroke-width="0.8"/>
<line x1="583.70" y1="445.40" x2="587.10" y2="445.40" stroke="#222" stroke-width="0.8"/>
<line x1="583.70" y1="457.40" x2="587.10" y2="457.40" stroke="#222" stroke-width="0.8"/>
<line x1="611.70" y1="453.70" x2="611.70" y2="463.70" stroke="#222" stroke-width="0.8"/>
<line x1="610.00" y1="453.70" x2="613.40" y2="453.70" stroke="#222" stroke-width="0.8"/>
<line x1="610.00" y1="463.70" x2="613.40" y2="463.70" stroke="#222" stroke-width="0.8"/>
<line x1="638.10" y1="457.10" x2="638.10" y2="467.10" stroke="#222" stroke-width="0.8"/>
<line x1="636.40" y1="457.10" x2="639.80" y2="457.10" stroke="#222" stroke-width="0.8"/>
<line x1="636.40" y1="467.10" x2="639.80" y2="467.10" stroke="#222" stroke-width="0.8"/>
<path d="M375.60 515.80L379.60 519.80L375.60 523.80L371.60 519.80Z" fill="#000"/>
<path d="M401.70 514.00L405.70 518.00L401.70 522.00L397.70 518.00Z" fill="#000"/>
<path d="M427.90 498.10L431.90 502.10L427.90 506.10L423.90 502.10Z" fill="#000"/>
<path d="M454.40 491.10L458.40 495.10L454.40 499.10L450.40 495.10Z" fill="#000"/>
<path d="M480.60 491.10L484.60 495.10L480.60 499.10L476.60 495.10Z" fill="#000"/>
<path d="M507.00 484.10L511.00 488.10L507.00 492.10L503.00 488.10Z" fill="#000"/>
<path d="M532.80 471.30L536.80 475.30L532.80 479.30L528.80 475.30Z" fill="#000"/>
<path d="M559.20 471.30L563.20 475.30L559.20 479.30L555.20 475.30Z" fill="#000"/>
<path d="M585.40 476.80L589.40 480.80L585.40 484.80L581.40 480.80Z" fill="#000"/>
<path d="M611.70 493.20L615.70 497.20L611.70 501.20L607.70 497.20Z" fill="#000"/>
<path d="M638.10 486.20L642.10 490.20L638.10 494.20L634.10 490.20Z" fill="#000"/>
<path d="M664.20 497.10L668.20 501.10L664.20 505.10L660.20 501.10Z" fill="#000"/>
<rect x="371.95" y="503.95" width="7.30" height="7.30" fill="#000"/>
<rect x="398.05" y="500.75" width="7.30" height="7.30" fill="#000"/>
<rect x="424.25" y="478.95" width="7.30" height="7.30" fill="#000"/>
<rect x="450.75" y="465.15" width="7.30" height="7.30" fill="#000"/>
<rect x="476.95" y="459.25" width="7.30" height="7.30" fill="#000"/>
<rect x="503.35" y="458.95" width="7.30" height="7.30" fill="#000"/>
<rect x="529.15" y="433.25" width="7.30" height="7.30" fill="#000"/>
<rect x="555.55" y="440.75" width="7.30" height="7.30" fill="#000"/>
<rect x="581.75" y="470.95" width="7.30" height="7.30" fill="#000"/>
<rect x="608.05" y="482.65" width="7.30" height="7.30" fill="#000"/>
<rect x="634.45" y="484.45" width="7.30" height="7.30" fill="#000"/>
<rect x="660.55" y="477.95" width="7.30" height="7.30" fill="#000"/>
<path d="M375.60 500.20L379.40 507.80L371.80 507.80Z" fill="#000"/>
<path d="M401.70 478.60L405.50 486.20L397.90 486.20Z" fill="#000"/>
<path d="M427.90 475.60L431.70 483.20L424.10 483.20Z" fill="#000"/>
<path d="M454.40 453.60L458.20 461.20L450.60 461.20Z" fill="#000"/>
<path d="M480.60 444.50L484.40 452.10L476.80 452.10Z" fill="#000"/>
<path d="M507.00 444.00L510.80 451.60L503.20 451.60Z" fill="#000"/>
<path d="M532.80 423.20L536.60 430.80L529.00 430.80Z" fill="#000"/>
<path d="M559.20 434.90L563.00 442.50L555.40 442.50Z" fill="#000"/>
<path d="M585.40 463.50L589.20 471.10L581.60 471.10Z" fill="#000"/>
<path d="M611.70 458.30L615.50 465.90L607.90 465.90Z" fill="#000"/>
<path d="M638.10 462.70L641.90 470.30L634.30 470.30Z" fill="#000"/>
<path d="M664.20 474.50L668.00 482.10L660.40 482.10Z" fill="#000"/>
<circle cx="375.60" cy="502.90" r="4.05" fill="#000"/>
<circle cx="401.70" cy="472.70" r="4.05" fill="#000"/>
<circle cx="427.90" cy="464.40" r="4.05" fill="#000"/>
<circle cx="454.40" cy="455.60" r="4.05" fill="#000"/>
<circle cx="480.60" cy="433.50" r="4.05" fill="#000"/>
<circle cx="507.00" cy="431.40" r="4.05" fill="#000"/>
<circle cx="532.80" cy="412.20" r="4.05" fill="#000"/>
<circle cx="559.20" cy="422.60" r="4.05" fill="#000"/>
<circle cx="585.40" cy="451.40" r="4.05" fill="#000"/>
<circle cx="611.70" cy="458.70" r="4.05" fill="#000"/>
<circle cx="638.10" cy="462.10" r="4.05" fill="#000"/>
<circle cx="664.20" cy="481.60" r="4.05" fill="#000"/>
<line x1="-107.00" y1="-50.00" x2="-93.00" y2="-50.00" stroke="#505050" stroke-width="0.8"/>
<path d="M-100.00 -53.52L-96.48 -50.00L-100.00 -46.48L-103.52 -50.00Z" fill="#000"/>
<text x="-100.00" y="-46.70" font-size="10.15" text-anchor="start" ></text>
<line x1="-107.00" y1="-50.00" x2="-93.00" y2="-50.00" stroke="#505050" stroke-width="0.8"/>
<rect x="-103.21" y="-53.21" width="6.42" height="6.42" fill="#000"/>
<text x="-100.00" y="-46.70" font-size="10.15" text-anchor="start" ></text>
<line x1="-107.00" y1="-50.00" x2="-93.00" y2="-50.00" stroke="#505050" stroke-width="0.8"/>
<path d="M-100.00 -53.34L-96.66 -46.66L-103.34 -46.66Z" fill="#000"/>
<text x="-100.00" y="-46.70" font-size="10.15" text-anchor="start" ></text>
<line x1="-107.00" y1="-50.00" x2="-93.00" y2="-50.00" stroke="#505050" stroke-width="0.8"/>
<circle cx="-100.00" cy="-50.00" r="3.56" fill="#000"/>
<text x="-100.00" y="-46.70" font-size="10.15" text-anchor="start" ></text>
<text x="30.60" y="203.20" font-size="10" text-anchor="end" >300</text>
<text x="30.60" y="230.90" font-size="10" text-anchor="end" >250</text>
<text x="30.60" y="258.60" font-size="10" text-anchor="end" >200</text>
<text x="30.60" y="286.20" font-size="10" text-anchor="end" >150</text>
<text x="30.60" y="313.80" font-size="10" text-anchor="end" >100</text>
<text x="30.60" y="341.40" font-size="10" text-anchor="end" >50</text>
<text x="30.60" y="369.00" font-size="10" text-anchor="end" >0</text>
<text transform="translate(8.90 283.20) rotate(-90)" font-size="10" text-anchor="middle" >soluble protein content(µg g<tspan dy="-3.5" font-size="6">-1</tspan><tspan dy="3.5"> FW)</tspan></text>
<text x="64.50" y="225.50" font-size="12.6" text-anchor="start" >E</text>
<text x="65.61" y="314.80" font-size="10" text-anchor="middle" >D3</text>
<text x="119.24" y="314.80" font-size="10" text-anchor="middle" >D6</text>
<text x="172.86" y="314.80" font-size="10" text-anchor="middle" >D9</text>
<text x="226.49" y="314.80" font-size="10" text-anchor="middle" >D12</text>
<text x="280.11" y="314.80" font-size="10" text-anchor="middle" >D15</text>
<text x="333.74" y="314.80" font-size="10" text-anchor="middle" >D18</text>
<text x="387.36" y="314.80" font-size="10" text-anchor="middle" >D21</text>
<text x="440.99" y="314.80" font-size="10" text-anchor="middle" >R3</text>
<text x="494.61" y="314.80" font-size="10" text-anchor="middle" >R6</text>
<text x="548.24" y="314.80" font-size="10" text-anchor="middle" >R9</text>
<text x="601.86" y="314.80" font-size="10" text-anchor="middle" >R12</text>
<text x="655.49" y="314.80" font-size="10" text-anchor="middle" >R15</text>
<text x="226.39" y="332.70" font-size="10" text-anchor="middle" letter-spacing="0.02" word-spacing="0.7">DROUGHT STRESS(DAYS)</text>
<text x="548.34" y="332.70" font-size="10" text-anchor="middle" >RE-WATERING(DAYS)</text>
<line x1="39.50" y1="199.50" x2="39.50" y2="365.30" stroke="#5a5a5a" stroke-width="1.0"/>
<line x1="39.50" y1="298.90" x2="683.00" y2="298.90" stroke="#707070" stroke-width="1.3"/>
<line x1="414.50" y1="298.90" x2="414.50" y2="335.50" stroke="#5a5a5a" stroke-width="1.0"/>
<line x1="683.50" y1="298.90" x2="683.50" y2="335.50" stroke="#5a5a5a" stroke-width="1.0"/>
<path d="M47.4 298.9h8.2v18.7h-8.2zM101 298.9h8.2v22.7h-8.2zM154.7 298.9h8.2v23.4h-8.2zM208.3 298.9h8.2v28.3h-8.2zM261.9 298.9h8.2v6.5h-8.2zM315.5 289h8.2v9.9h-8.2zM369.1 270.1h8.2v28.8h-8.2zM422.8 298.9h8.2v11.4h-8.2zM476.4 298.9h8.2v21.5h-8.2zM530 298.9h8.2v23.2h-8.2zM583.6 298.9h8.2v26.6h-8.2zM637.3 298.9h8.2v28.2h-8.2zM601.2 208.4h5.2v5.2h-5.2z" fill="#ececec"/>
<path d="M47.4 315.8L49.2 317.6M47.4 313.6L51.4 317.6M47.4 311.4L53.6 317.6M47.4 309.2L55.6 317.4M47.4 307L55.6 315.2M47.4 304.8L55.6 313M47.4 302.6L55.6 310.8M47.4 300.4L55.6 308.6M48.1 298.9L55.6 306.4M50.3 298.9L55.6 304.2M52.5 298.9L55.6 302M54.7 298.9L55.6 299.8M47.4 300.2L48.7 298.9M47.4 302.4L50.9 298.9M47.4 304.6L53.1 298.9M47.4 306.8L55.3 298.9M47.4 309L55.6 300.8M47.4 311.2L55.6 303M47.4 313.4L55.6 305.2M47.4 315.6L55.6 307.4M47.6 317.6L55.6 309.6M49.8 317.6L55.6 311.8M52 317.6L55.6 314M54.2 317.6L55.6 316.2M101 321L101.6 321.6M101 318.8L103.8 321.6M101 316.6L106 321.6M101 314.4L108.2 321.6M101 312.2L109.2 320.4M101 310L109.2 318.2M101 307.8L109.2 316M101 305.6L109.2 313.8M101 303.4L109.2 311.6M101 301.2L109.2 309.4M101 299L109.2 307.2M103.1 298.9L109.2 305M105.3 298.9L109.2 302.8M107.5 298.9L109.2 300.6M101 299.4L101.5 298.9M101 301.6L103.7 298.9M101 303.8L105.9 298.9M101 306L108.1 298.9M101 308.2L109.2 300M101 310.4L109.2 302.2M101 312.6L109.2 304.4M101 314.8L109.2 306.6M101 317L109.2 308.8M101 319.2L109.2 311M101 321.4L109.2 313.2M103 321.6L109.2 315.4M105.2 321.6L109.2 317.6M107.4 321.6L109.2 319.8M154.7 321.9L155.1 322.3M154.7 319.6L157.3 322.3M154.7 317.5L159.5 322.3M154.7 315.2L161.7 322.3M154.7 313.1L162.8 321.2M154.7 310.9L162.8 319.1M154.7 308.6L162.8 316.9M154.7 306.5L162.8 314.6M154.7 304.2L162.8 312.5M154.7 302.1L162.8 310.2M154.7 299.9L162.8 308.1M155.9 298.9L162.8 305.9M158.1 298.9L162.8 303.6M160.3 298.9L162.8 301.5M162.5 298.9L162.8 299.2M154.7 300.8L156.5 298.9M154.7 303L158.7 298.9M154.7 305.1L160.9 298.9M154.7 307.4L162.8 299.2M154.7 309.6L162.8 301.4M154.7 311.8L162.8 303.6M154.7 314L162.8 305.8M154.7 316.1L162.8 308M154.7 318.4L162.8 310.2M154.7 320.6L162.8 312.4M155.1 322.3L162.8 314.6M157.3 322.3L162.8 316.8M159.5 322.3L162.8 319M161.7 322.3L162.8 321.2M208.3 324.9L210.6 327.2M208.3 322.7L212.8 327.2M208.3 320.5L215 327.2M208.3 318.3L216.5 326.5M208.3 316.1L216.5 324.3M208.3 313.9L216.5 322.1M208.3 311.7L216.5 319.9M208.3 309.5L216.5 317.7M208.3 307.3L216.5 315.5M208.3 305.1L216.5 313.3M208.3 302.9L216.5 311.1M208.3 300.7L216.5 308.9M208.7 298.9L216.5 306.7M210.9 298.9L216.5 304.5M213.1 298.9L216.5 302.3M215.3 298.9L216.5 300.1M208.3 299.9L209.3 298.9M208.3 302.1L211.5 298.9M208.3 304.3L213.7 298.9M208.3 306.5L215.9 298.9M208.3 308.7L216.5 300.5M208.3 310.9L216.5 302.7M208.3 313.1L216.5 304.9M208.3 315.3L216.5 307.1M208.3 317.5L216.5 309.3M208.3 319.7L216.5 311.5M208.3 321.9L216.5 313.7M208.3 324.1L216.5 315.9M208.3 326.3L216.5 318.1M209.6 327.2L216.5 320.3M211.8 327.2L216.5 322.5M214 327.2L216.5 324.7M216.2 327.2L216.5 326.9M261.9 303.7L263.6 305.4M261.9 301.5L265.8 305.4M261.9 299.3L268 305.4M263.7 298.9L270.1 305.3M265.9 298.9L270.1 303.1M268.1 298.9L270.1 300.9M261.9 299.1L262.1 298.9M261.9 301.3L264.3 298.9M261.9 303.5L266.5 298.9M262.2 305.4L268.7 298.9M264.4 305.4L270.1 299.7M266.6 305.4L270.1 301.9M268.8 305.4L270.1 304.1M315.5 297.9L316.5 298.9M315.5 295.7L318.7 298.9M315.5 293.5L320.9 298.9M315.5 291.3L323.1 298.9M315.5 289.1L323.7 297.3M317.6 289L323.7 295.1M319.8 289L323.7 292.9M322 289L323.7 290.7M315.5 289.5L316 289M315.5 291.7L318.2 289M315.5 293.9L320.4 289M315.5 296.1L322.6 289M315.5 298.3L323.7 290.1M317.1 298.9L323.7 292.3M319.3 298.9L323.7 294.5M321.5 298.9L323.7 296.7M369.1 296.5L371.5 298.9M369.1 294.3L373.7 298.9M369.1 292.1L375.9 298.9M369.1 289.9L377.3 298.1M369.1 287.8L377.3 295.9M369.1 285.5L377.3 293.7M369.1 283.3L377.3 291.5M369.1 281.1L377.3 289.3M369.1 278.9L377.3 287.1M369.1 276.8L377.3 284.9M369.1 274.5L377.3 282.7M369.1 272.3L377.3 280.5M369.1 270.1L377.3 278.3M371.3 270.1L377.3 276.1M373.5 270.1L377.3 273.9M375.7 270.1L377.3 271.7M369.1 271.1L370.1 270.1M369.1 273.3L372.3 270.1M369.1 275.5L374.5 270.1M369.1 277.7L376.7 270.1M369.1 279.9L377.3 271.7M369.1 282.1L377.3 273.9M369.1 284.3L377.3 276.1M369.1 286.5L377.3 278.3M369.1 288.7L377.3 280.5M369.1 290.9L377.3 282.7M369.1 293.1L377.3 284.9M369.1 295.3L377.3 287.1M369.1 297.5L377.3 289.3M369.9 298.9L377.3 291.5M372.1 298.9L377.3 293.7M374.3 298.9L377.3 295.9M376.5 298.9L377.3 298.1M422.8 308.4L424.7 310.3M422.8 306.2L426.9 310.3M422.8 304L429.1 310.3M422.8 301.8L431 310M422.8 299.6L431 307.8M424.3 298.9L431 305.6M426.5 298.9L431 303.4M428.7 298.9L431 301.2M422.8 301L424.9 298.9M422.8 303.2L427.1 298.9M422.8 305.4L429.3 298.9M422.8 307.6L431 299.4M422.8 309.8L431 301.6M424.5 310.3L431 303.8M426.7 310.3L431 306M428.9 310.3L431 308.2M476.4 320.2L476.6 320.4M476.4 318L478.8 320.4M476.4 315.8L481 320.4M476.4 313.6L483.2 320.4M476.4 311.4L484.6 319.6M476.4 309.2L484.6 317.4M476.4 307L484.6 315.2M476.4 304.8L484.6 313M476.4 302.6L484.6 310.8M476.4 300.4L484.6 308.6M477.1 298.9L484.6 306.4M479.3 298.9L484.6 304.2M481.5 298.9L484.6 302M483.7 298.9L484.6 299.8M476.4 300.2L477.7 298.9M476.4 302.4L479.9 298.9M476.4 304.6L482.1 298.9M476.4 306.8L484.3 298.9M476.4 309L484.6 300.8M476.4 311.2L484.6 303M476.4 313.4L484.6 305.2M476.4 315.6L484.6 307.4M476.4 317.8L484.6 309.6M476.4 320L484.6 311.8M478.2 320.4L484.6 314M480.4 320.4L484.6 316.2M482.6 320.4L484.6 318.4M530 321L531.1 322.1M530 318.8L533.3 322.1M530 316.6L535.5 322.1M530 314.4L537.7 322.1M530 312.2L538.2 320.4M530 310L538.2 318.2M530 307.8L538.2 316M530 305.6L538.2 313.8M530 303.4L538.2 311.6M530 301.2L538.2 309.4M530 299L538.2 307.2M532.1 298.9L538.2 305M534.3 298.9L538.2 302.8M536.5 298.9L538.2 300.6M530 299.4L530.5 298.9M530 301.6L532.7 298.9M530 303.8L534.9 298.9M530 306L537.1 298.9M530 308.2L538.2 300M530 310.4L538.2 302.2M530 312.6L538.2 304.4M530 314.8L538.2 306.6M530 317L538.2 308.8M530 319.2L538.2 311M530 321.4L538.2 313.2M531.5 322.1L538.2 315.4M533.7 322.1L538.2 317.6M535.9 322.1L538.2 319.8M583.6 324L585.1 325.5M583.6 321.8L587.3 325.5M583.6 319.6L589.5 325.5M583.6 317.4L591.7 325.5M583.6 315.2L591.9 323.4M583.6 313L591.9 321.2M583.6 310.8L591.9 319.1M583.6 308.6L591.9 316.9M583.6 306.4L591.9 314.6M583.6 304.2L591.9 312.4M583.6 302L591.9 310.2M583.6 299.8L591.9 308.1M584.9 298.9L591.9 305.9M587.1 298.9L591.9 303.6M589.3 298.9L591.9 301.4M591.5 298.9L591.9 299.2M583.6 300.8L585.5 298.9M583.6 303L587.7 298.9M583.6 305.2L589.9 298.9M583.6 307.4L591.9 299.2M583.6 309.6L591.9 301.4M583.6 311.8L591.9 303.6M583.6 314L591.9 305.8M583.6 316.2L591.9 308M583.6 318.4L591.9 310.2M583.6 320.6L591.9 312.4M583.6 322.8L591.9 314.6M583.6 325L591.9 316.8M585.3 325.5L591.9 319M587.5 325.5L591.9 321.2M589.7 325.5L591.9 323.4M637.3 324.9L639.5 327.1M637.3 322.7L641.7 327.1M637.3 320.5L643.9 327.1M637.3 318.3L645.5 326.5M637.3 316.1L645.5 324.3M637.3 313.9L645.5 322.1M637.3 311.7L645.5 319.9M637.3 309.5L645.5 317.7M637.3 307.3L645.5 315.5M637.3 305.1L645.5 313.3M637.3 302.9L645.5 311.1M637.3 300.7L645.5 308.9M637.7 298.9L645.5 306.7M639.9 298.9L645.5 304.5M642.1 298.9L645.5 302.3M644.3 298.9L645.5 300.1M637.3 299.9L638.3 298.9M637.3 302.1L640.5 298.9M637.3 304.3L642.7 298.9M637.3 306.5L644.9 298.9M637.3 308.7L645.5 300.5M637.3 310.9L645.5 302.7M637.3 313.1L645.5 304.9M637.3 315.3L645.5 307.1M637.3 317.5L645.5 309.3M637.3 319.7L645.5 311.5M637.3 321.9L645.5 313.7M637.3 324.1L645.5 315.9M637.3 326.3L645.5 318.1M638.7 327.1L645.5 320.3M640.9 327.1L645.5 322.5M643.1 327.1L645.5 324.7M645.3 327.1L645.5 326.9M601.2 211.8L603 213.6M601.2 209.6L605.2 213.6M602.2 208.4L606.4 212.6M604.4 208.4L606.4 210.4M601.2 210.6L603.4 208.4M601.2 212.8L605.6 208.4M602.6 213.6L606.4 209.8M604.8 213.6L606.4 212" stroke="#a2a2a2" stroke-width="0.55" fill="none"/>
<path d="M47.4 298.9h8.2v18.7h-8.2zM101 298.9h8.2v22.7h-8.2zM154.7 298.9h8.2v23.4h-8.2zM208.3 298.9h8.2v28.3h-8.2zM261.9 298.9h8.2v6.5h-8.2zM315.5 289h8.2v9.9h-8.2zM369.1 270.1h8.2v28.8h-8.2zM422.8 298.9h8.2v11.4h-8.2zM476.4 298.9h8.2v21.5h-8.2zM530 298.9h8.2v23.2h-8.2zM583.6 298.9h8.2v26.6h-8.2zM637.3 298.9h8.2v28.2h-8.2zM601.2 208.4h5.2v5.2h-5.2z" fill="none" stroke="#383838" stroke-width="0.95"/>
<path d="M57.1 312.3L59.4 314.6M57.1 307.9L63.8 314.6M57.1 303.5L65.3 311.7M57.1 299.1L65.3 307.3M61.3 298.9L65.3 302.9M57.1 299.3L57.5 298.9M57.1 303.7L61.9 298.9M57.1 308.1L65.3 299.9M57.1 312.5L65.3 304.3M59.4 314.6L65.3 308.7M63.8 314.6L65.3 313.1M110.7 299.9L114.3 303.5M114.1 298.9L118.7 303.5M118.5 298.9L118.9 299.3M110.7 302.9L114.7 298.9M114.5 303.5L118.9 299.1M164.3 300.8L167.7 304.1M166.9 298.9L172.1 304.1M171.3 298.9L172.5 300.1M164.3 302.1L167.5 298.9M166.7 304.1L171.9 298.9M171.1 304.1L172.5 302.7M218 297.2L219.7 298.9M221.4 296.2L224.1 298.9M225.8 296.2L226.2 296.6M218 296.8L218.6 296.2M220.3 298.9L223 296.2M224.7 298.9L226.2 297.4M272.5 298.9L273 299.4M276.9 298.9L277.4 299.4M272.6 299.4L273.1 298.9M277 299.4L277.5 298.9M325.2 294.4L329.7 298.9M325.2 290L333.4 298.2M325.2 285.6L333.4 293.8M325.2 281.2L333.4 289.4M325.2 276.8L333.4 285M325.2 272.4L333.4 280.6M325.2 268L333.4 276.2M325.2 263.6L333.4 271.8M327.7 261.7L333.4 267.4M332.1 261.7L333.4 263M325.2 264.4L327.9 261.7M325.2 268.8L332.3 261.7M325.2 273.2L333.4 265M325.2 277.6L333.4 269.4M325.2 282L333.4 273.8M325.2 286.4L333.4 278.2M325.2 290.8L333.4 282.6M325.2 295.2L333.4 287M325.9 298.9L333.4 291.4M330.3 298.9L333.4 295.8M378.8 295.2L382.5 298.9M378.8 290.8L386.9 298.9M378.8 286.4L387 294.6M378.8 282L387 290.2M378.8 277.6L387 285.8M378.8 273.2L387 281.4M378.8 268.8L387 277M378.8 264.4L387 272.6M378.8 260L387 268.2M378.8 255.6L387 263.8M378.8 251.2L387 259.4M378.8 246.8L387 255M382.7 246.3L387 250.6M378.8 250.4L382.9 246.3M378.8 254.8L387 246.6M378.8 259.2L387 251M378.8 263.6L387 255.4M378.8 268L387 259.8M378.8 272.4L387 264.2M378.8 276.8L387 268.6M378.8 281.2L387 273M378.8 285.6L387 277.4M378.8 290L387 281.8M378.8 294.4L387 286.2M378.8 298.8L387 290.6M383.1 298.9L387 295M432.5 296.1L435.3 298.9M432.5 291.7L439.7 298.9M432.5 287.3L440.7 295.5M432.5 282.9L440.7 291.1M432.5 278.5L440.7 286.7M432.5 274.1L440.7 282.3M432.5 269.7L440.7 277.9M436.8 269.6L440.7 273.5M432.5 271.5L434.4 269.6M432.5 275.9L438.8 269.6M432.5 280.3L440.7 272.1M432.5 284.7L440.7 276.5M432.5 289.1L440.7 280.9M432.5 293.5L440.7 285.3M432.5 297.9L440.7 289.7M435.9 298.9L440.7 294.1M440.3 298.9L440.7 298.5M486.1 296.9L488.1 298.9M486.1 292.5L492.5 298.9M486.1 288.1L494.3 296.3M486.1 283.7L494.3 291.9M486.1 279.3L494.3 287.5M486.1 274.9L494.3 283.1M490.4 274.8L494.3 278.7M486.1 275.1L486.4 274.8M486.1 279.5L490.8 274.8M486.1 283.9L494.3 275.7M486.1 288.3L494.3 280.1M486.1 292.7L494.3 284.5M486.1 297.1L494.3 288.9M488.7 298.9L494.3 293.3M493.1 298.9L494.3 297.7M539.7 297.7L540.9 298.9M539.7 293.3L545.3 298.9M539.7 288.9L547.9 297.1M539.7 284.5L547.9 292.7M539.7 280.1L547.9 288.3M542.4 278.4L547.9 283.9M546.8 278.4L547.9 279.5M539.7 278.7L540 278.4M539.7 283.1L544.4 278.4M539.7 287.5L547.9 279.3M539.7 291.9L547.9 283.7M539.7 296.3L547.9 288.1M541.5 298.9L547.9 292.5M545.9 298.9L547.9 296.9M601.2 227.2L603.1 229.1M602.3 223.9L606.4 228M601.2 226L603.3 223.9M602.5 229.1L606.4 225.2" stroke="#707070" stroke-width="0.8" fill="none"/>
<path d="M57.1 298.9h8.2v15.7h-8.2zM110.7 298.9h8.2v4.6h-8.2zM164.3 298.9h8.2v5.2h-8.2zM218 296.2h8.2v2.7h-8.2zM271.6 298.9h8.2v0.5h-8.2zM325.2 261.7h8.2v37.2h-8.2zM378.8 246.3h8.2v52.6h-8.2zM432.5 269.6h8.2v29.3h-8.2zM486.1 274.8h8.2v24.1h-8.2zM539.7 278.4h8.2v20.5h-8.2zM601.2 223.9h5.2v5.2h-5.2z" fill="none" stroke="#383838" stroke-width="0.95"/>
<path d="M66.8 298.9h8.2v30.6h-8.2zM120.4 298.9h8.2v36.9h-8.2zM174.1 298.9h8.2v27.9h-8.2zM227.7 298.9h8.2v19.6h-8.2zM281.3 298.9h8.2v17.7h-8.2zM334.9 294.4h8.2v4.5h-8.2zM388.5 284.2h8.2v14.7h-8.2zM442.2 298.9h8.2v12.6h-8.2zM495.8 298.9h8.2v21.5h-8.2zM549.4 298.9h8.2v30.4h-8.2zM603 298.9h8.2v21.8h-8.2zM656.7 298.9h8.2v23.8h-8.2zM601.2 239.4h5.2v5.2h-5.2z" fill="#1e1e1e"/>
<path d="M66.8 328.6L67.7 329.5M66.8 326.4L69.9 329.5M66.8 324.2L72.1 329.5M66.8 322L74.3 329.5M66.8 319.8L75 328M66.8 317.6L75 325.8M66.8 315.4L75 323.6M66.8 313.2L75 321.4M66.8 311L75 319.2M66.8 308.8L75 317M66.8 306.6L75 314.8M66.8 304.4L75 312.6M66.8 302.2L75 310.4M66.8 300L75 308.2M67.9 298.9L75 306M70.1 298.9L75 303.8M72.3 298.9L75 301.6M74.5 298.9L75 299.4M66.8 300.6L68.5 298.9M66.8 302.8L70.7 298.9M66.8 305L72.9 298.9M66.8 307.2L75 299M66.8 309.4L75 301.2M66.8 311.6L75 303.4M66.8 313.8L75 305.6M66.8 316L75 307.8M66.8 318.2L75 310M66.8 320.4L75 312.2M66.8 322.6L75 314.4M66.8 324.8L75 316.6M66.8 327L75 318.8M66.8 329.2L75 321M68.7 329.5L75 323.2M70.9 329.5L75 325.4M73.1 329.5L75 327.6M120.4 333.8L122.4 335.8M120.4 331.6L124.6 335.8M120.4 329.4L126.8 335.8M120.4 327.2L128.6 335.4M120.4 325L128.6 333.2M120.4 322.8L128.6 331M120.4 320.6L128.6 328.8M120.4 318.4L128.6 326.6M120.4 316.2L128.6 324.4M120.4 314L128.6 322.2M120.4 311.8L128.6 320M120.4 309.6L128.6 317.8M120.4 307.4L128.6 315.6M120.4 305.2L128.6 313.4M120.4 303L128.6 311.2M120.4 300.8L128.6 309M120.7 298.9L128.6 306.8M122.9 298.9L128.6 304.6M125.1 298.9L128.6 302.4M127.3 298.9L128.6 300.2M120.4 299.8L121.3 298.9M120.4 302L123.5 298.9M120.4 304.2L125.7 298.9M120.4 306.4L127.9 298.9M120.4 308.6L128.6 300.4M120.4 310.8L128.6 302.6M120.4 313L128.6 304.8M120.4 315.2L128.6 307M120.4 317.4L128.6 309.2M120.4 319.6L128.6 311.4M120.4 321.8L128.6 313.6M120.4 324L128.6 315.8M120.4 326.2L128.6 318M120.4 328.4L128.6 320.2M120.4 330.6L128.6 322.4M120.4 332.8L128.6 324.6M120.4 335L128.6 326.8M121.8 335.8L128.6 329M124 335.8L128.6 331.2M126.2 335.8L128.6 333.4M128.4 335.8L128.6 335.6M174.1 325.9L175 326.8M174.1 323.7L177.2 326.8M174.1 321.5L179.4 326.8M174.1 319.2L181.6 326.8M174.1 317.1L182.2 325.2M174.1 314.9L182.2 323.1M174.1 312.7L182.2 320.9M174.1 310.5L182.2 318.6M174.1 308.2L182.2 316.5M174.1 306.1L182.2 314.2M174.1 303.9L182.2 312.1M174.1 301.7L182.2 309.9M174.1 299.5L182.2 307.6M175.7 298.9L182.2 305.5M177.9 298.9L182.2 303.2M180.1 298.9L182.2 301.1M174.1 301.2L176.3 298.9M174.1 303.4L178.5 298.9M174.1 305.6L180.7 298.9M174.1 307.8L182.2 299.6M174.1 310L182.2 301.8M174.1 312.2L182.2 304M174.1 314.4L182.2 306.2M174.1 316.6L182.2 308.4M174.1 318.8L182.2 310.6M174.1 321L182.2 312.8M174.1 323.2L182.2 315M174.1 325.4L182.2 317.2M174.8 326.8L182.2 319.4M177 326.8L182.2 321.6M179.2 326.8L182.2 323.8M181.4 326.8L182.2 326M227.7 317.9L228.3 318.5M227.7 315.7L230.5 318.5M227.7 313.5L232.7 318.5M227.7 311.3L234.9 318.5M227.7 309.1L235.9 317.3M227.7 306.9L235.9 315.1M227.7 304.7L235.9 312.9M227.7 302.5L235.9 310.7M227.7 300.3L235.9 308.5M228.5 298.9L235.9 306.3M230.7 298.9L235.9 304.1M232.9 298.9L235.9 301.9M235.1 298.9L235.9 299.7M227.7 300.3L229.1 298.9M227.7 302.5L231.3 298.9M227.7 304.7L233.5 298.9M227.7 306.9L235.7 298.9M227.7 309.1L235.9 300.9M227.7 311.3L235.9 303.1M227.7 313.5L235.9 305.3M227.7 315.7L235.9 307.5M227.7 317.9L235.9 309.7M229.3 318.5L235.9 311.9M231.5 318.5L235.9 314.1M233.7 318.5L235.9 316.3M281.3 314.3L283.6 316.6M281.3 312.1L285.8 316.6M281.3 309.9L288 316.6M281.3 307.7L289.5 315.9M281.3 305.5L289.5 313.7M281.3 303.3L289.5 311.5M281.3 301.1L289.5 309.3M281.3 298.9L289.5 307.1M283.5 298.9L289.5 304.9M285.7 298.9L289.5 302.7M287.9 298.9L289.5 300.5M281.3 299.5L281.9 298.9M281.3 301.7L284.1 298.9M281.3 303.9L286.3 298.9M281.3 306.1L288.5 298.9M281.3 308.3L289.5 300.1M281.3 310.5L289.5 302.3M281.3 312.7L289.5 304.5M281.3 314.9L289.5 306.7M281.8 316.6L289.5 308.9M284 316.6L289.5 311.1M286.2 316.6L289.5 313.3M288.4 316.6L289.5 315.5M334.9 297.5L336.3 298.9M334.9 295.3L338.5 298.9M336.2 294.4L340.7 298.9M338.4 294.4L342.9 298.9M340.6 294.4L343.1 296.9M342.8 294.4L343.1 294.7M334.9 296.5L337 294.4M334.9 298.7L339.2 294.4M336.9 298.9L341.4 294.4M339.1 298.9L343.1 294.9M341.3 298.9L343.1 297.1M388.5 298.3L389.1 298.9M388.5 296.1L391.3 298.9M388.5 293.9L393.5 298.9M388.5 291.7L395.7 298.9M388.5 289.5L396.7 297.7M388.5 287.3L396.7 295.5M388.5 285.1L396.7 293.3M389.8 284.2L396.7 291.1M392 284.2L396.7 288.9M394.2 284.2L396.7 286.7M396.4 284.2L396.7 284.5M388.5 284.7L389 284.2M388.5 286.9L391.2 284.2M388.5 289.1L393.4 284.2M388.5 291.3L395.6 284.2M388.5 293.5L396.7 285.3M388.5 295.7L396.7 287.5M388.5 297.9L396.7 289.7M389.7 298.9L396.7 291.9M391.9 298.9L396.7 294.1M394.1 298.9L396.7 296.3M396.3 298.9L396.7 298.5M442.2 310.2L443.5 311.5M442.2 308L445.7 311.5M442.2 305.8L447.9 311.5M442.2 303.6L450.1 311.5M442.2 301.4L450.4 309.6M442.2 299.2L450.4 307.4M444.1 298.9L450.4 305.2M446.3 298.9L450.4 303M448.5 298.9L450.4 300.8M442.2 299.2L442.5 298.9M442.2 301.4L444.7 298.9M442.2 303.6L446.9 298.9M442.2 305.8L449.1 298.9M442.2 308L450.4 299.8M442.2 310.2L450.4 302M443.1 311.5L450.4 304.2M445.3 311.5L450.4 306.4M447.5 311.5L450.4 308.6M449.7 311.5L450.4 310.8M495.8 319.8L496.4 320.4M495.8 317.6L498.6 320.4M495.8 315.4L500.8 320.4M495.8 313.2L503 320.4M495.8 311L504 319.2M495.8 308.8L504 317M495.8 306.6L504 314.8M495.8 304.4L504 312.6M495.8 302.2L504 310.4M495.8 300L504 308.2M496.9 298.9L504 306M499.1 298.9L504 303.8M501.3 298.9L504 301.6M503.5 298.9L504 299.4M495.8 300.6L497.5 298.9M495.8 302.8L499.7 298.9M495.8 305L501.9 298.9M495.8 307.2L504 299M495.8 309.4L504 301.2M495.8 311.6L504 303.4M495.8 313.8L504 305.6M495.8 316L504 307.8M495.8 318.2L504 310M495.8 320.4L504 312.2M498 320.4L504 314.4M500.2 320.4L504 316.6M502.4 320.4L504 318.8M549.4 327.2L551.5 329.3M549.4 325L553.7 329.3M549.4 322.8L555.9 329.3M549.4 320.6L557.6 328.8M549.4 318.4L557.6 326.6M549.4 316.2L557.6 324.4M549.4 314L557.6 322.2M549.4 311.8L557.6 320M549.4 309.6L557.6 317.8M549.4 307.4L557.6 315.6M549.4 305.2L557.6 313.4M549.4 303L557.6 311.2M549.4 300.8L557.6 309M549.7 298.9L557.6 306.8M551.9 298.9L557.6 304.6M554.1 298.9L557.6 302.4M556.3 298.9L557.6 300.2M549.4 299.8L550.3 298.9M549.4 302L552.5 298.9M549.4 304.2L554.7 298.9M549.4 306.4L556.9 298.9M549.4 308.6L557.6 300.4M549.4 310.8L557.6 302.6M549.4 313L557.6 304.8M549.4 315.2L557.6 307M549.4 317.4L557.6 309.2M549.4 319.6L557.6 311.4M549.4 321.8L557.6 313.6M549.4 324L557.6 315.8M549.4 326.2L557.6 318M549.4 328.4L557.6 320.2M550.7 329.3L557.6 322.4M552.9 329.3L557.6 324.6M555.1 329.3L557.6 326.8M557.3 329.3L557.6 329M603 319.2L604.5 320.7M603 317L606.7 320.7M603 314.8L608.9 320.7M603 312.6L611.1 320.7M603 310.4L611.2 318.6M603 308.2L611.2 316.4M603 306L611.2 314.2M603 303.8L611.2 312M603 301.6L611.2 309.8M603 299.4L611.2 307.6M604.7 298.9L611.2 305.4M606.9 298.9L611.2 303.2M609.1 298.9L611.2 301M603 301.2L605.3 298.9M603 303.4L607.5 298.9M603 305.6L609.7 298.9M603 307.8L611.2 299.6M603 310L611.2 301.8M603 312.2L611.2 304M603 314.4L611.2 306.2M603 316.6L611.2 308.4M603 318.8L611.2 310.6M603.3 320.7L611.2 312.8M605.5 320.7L611.2 315M607.7 320.7L611.2 317.2M609.9 320.7L611.2 319.4M656.7 322.3L657.1 322.7M656.7 320.1L659.3 322.7M656.7 317.9L661.5 322.7M656.7 315.7L663.7 322.7M656.7 313.5L664.9 321.7M656.7 311.3L664.9 319.5M656.7 309.1L664.9 317.3M656.7 306.9L664.9 315.1M656.7 304.7L664.9 312.9M656.7 302.5L664.9 310.7M656.7 300.3L664.9 308.5M657.5 298.9L664.9 306.3M659.7 298.9L664.9 304.1M661.9 298.9L664.9 301.9M664.1 298.9L664.9 299.7M656.7 300.3L658.1 298.9M656.7 302.5L660.3 298.9M656.7 304.7L662.5 298.9M656.7 306.9L664.7 298.9M656.7 309.1L664.9 300.9M656.7 311.3L664.9 303.1M656.7 313.5L664.9 305.3M656.7 315.7L664.9 307.5M656.7 317.9L664.9 309.7M656.7 320.1L664.9 311.9M656.7 322.3L664.9 314.1M658.5 322.7L664.9 316.3M660.7 322.7L664.9 318.5M662.9 322.7L664.9 320.7M601.2 242.6L603.2 244.6M601.2 240.4L605.4 244.6M602.4 239.4L606.4 243.4M604.6 239.4L606.4 241.2M601.2 241.4L603.2 239.4M601.2 243.6L605.4 239.4M602.4 244.6L606.4 240.6M604.6 244.6L606.4 242.8" stroke="#888888" stroke-width="0.55" fill="none"/>
<path d="M66.8 298.9h8.2v30.6h-8.2zM120.4 298.9h8.2v36.9h-8.2zM174.1 298.9h8.2v27.9h-8.2zM227.7 298.9h8.2v19.6h-8.2zM281.3 298.9h8.2v17.7h-8.2zM334.9 294.4h8.2v4.5h-8.2zM388.5 284.2h8.2v14.7h-8.2zM442.2 298.9h8.2v12.6h-8.2zM495.8 298.9h8.2v21.5h-8.2zM549.4 298.9h8.2v30.4h-8.2zM603 298.9h8.2v21.8h-8.2zM656.7 298.9h8.2v23.8h-8.2zM601.2 239.4h5.2v5.2h-5.2z" fill="none" stroke="#1c1c1c" stroke-width="0.8"/>
<path d="M76.5 298.9h8.2v13.6h-8.2zM130.1 298.9h8.2v3.6h-8.2zM183.8 298.9h8.2v11.5h-8.2zM237.4 298.9h8.2v6.7h-8.2zM291 295h8.2v3.9h-8.2zM344.6 261.9h8.2v37h-8.2zM398.2 231.6h8.2v67.3h-8.2zM451.9 259.4h8.2v39.5h-8.2zM505.5 293.2h8.2v5.7h-8.2zM559.1 298.9h8.2v0.9h-8.2zM593.4 298.9h8.2v19.8h-8.2zM612.8 298.9h8.2v13.7h-8.2zM647 298.9h8.2v15.5h-8.2zM666.4 298.9h8.2v8.1h-8.2zM601.2 254.9h5.2v5.2h-5.2z" fill="#050505"/>
<path d="M76.5 309.7L79.3 312.5M76.5 305.3L83.7 312.5M76.5 300.9L84.7 309.1M78.9 298.9L84.7 304.7M83.3 298.9L84.7 300.3M76.5 301.9L79.5 298.9M76.5 306.3L83.9 298.9M76.5 310.7L84.7 302.5M79.1 312.5L84.7 306.9M83.5 312.5L84.7 311.3M130.1 301.7L130.9 302.5M131.7 298.9L135.3 302.5M136.1 298.9L138.3 301.1M130.1 301.1L132.3 298.9M133.1 302.5L136.7 298.9M137.5 302.5L138.3 301.7M183.8 307L187.2 310.4M183.8 302.6L191.6 310.4M184.5 298.9L191.9 306.4M188.9 298.9L191.9 301.9M183.8 300.3L185.1 298.9M183.8 304.7L189.5 298.9M183.8 309.1L191.9 300.9M186.8 310.4L191.9 305.3M191.2 310.4L191.9 309.7M237.4 303.4L239.6 305.6M237.4 299L244 305.6M241.7 298.9L245.6 302.8M237.4 299.4L237.9 298.9M237.4 303.8L242.3 298.9M240 305.6L245.6 300M244.4 305.6L245.6 304.4M291 295.4L294.5 298.9M295 295L298.9 298.9M291 298.6L294.6 295M295.1 298.9L299 295M344.6 296.2L347.3 298.9M344.6 291.8L351.7 298.9M344.6 287.4L352.8 295.6M344.6 283L352.8 291.2M344.6 278.6L352.8 286.8M344.6 274.2L352.8 282.4M344.6 269.8L352.8 278M344.6 265.4L352.8 273.6M345.5 261.9L352.8 269.2M349.9 261.9L352.8 264.8M344.6 262.6L345.3 261.9M344.6 267L349.7 261.9M344.6 271.4L352.8 263.2M344.6 275.8L352.8 267.6M344.6 280.2L352.8 272M344.6 284.6L352.8 276.4M344.6 289L352.8 280.8M344.6 293.4L352.8 285.2M344.6 297.8L352.8 289.6M347.9 298.9L352.8 294M352.3 298.9L352.8 298.4M398.2 297.1L400.1 298.9M398.2 292.6L404.5 298.9M398.2 288.2L406.4 296.4M398.2 283.9L406.4 292M398.2 279.4L406.4 287.6M398.2 275L406.4 283.2M398.2 270.6L406.4 278.8M398.2 266.2L406.4 274.4M398.2 261.9L406.4 270M398.2 257.4L406.4 265.6M398.2 253L406.4 261.2M398.2 248.6L406.4 256.8M398.2 244.2L406.4 252.4M398.2 239.8L406.4 248M398.2 235.4L406.4 243.6M398.8 231.6L406.4 239.2M403.2 231.6L406.4 234.8M398.2 235.4L402 231.6M398.2 239.8L406.4 231.6M398.2 244.2L406.4 236M398.2 248.6L406.4 240.4M398.2 253L406.4 244.8M398.2 257.4L406.4 249.2M398.2 261.8L406.4 253.6M398.2 266.2L406.4 258M398.2 270.6L406.4 262.4M398.2 275L406.4 266.8M398.2 279.4L406.4 271.2M398.2 283.8L406.4 275.6M398.2 288.2L406.4 280M398.2 292.6L406.4 284.4M398.2 297L406.4 288.8M400.7 298.9L406.4 293.2M405.1 298.9L406.4 297.6M451.9 297.9L452.9 298.9M451.9 293.5L457.3 298.9M451.9 289.1L460.1 297.3M451.9 284.7L460.1 292.9M451.9 280.3L460.1 288.5M451.9 275.9L460.1 284.1M451.9 271.5L460.1 279.7M451.9 267.1L460.1 275.3M451.9 262.7L460.1 270.9M453 259.4L460.1 266.5M457.4 259.4L460.1 262.1M451.9 260.9L453.4 259.4M451.9 265.3L457.8 259.4M451.9 269.7L460.1 261.5M451.9 274.1L460.1 265.9M451.9 278.5L460.1 270.3M451.9 282.9L460.1 274.7M451.9 287.3L460.1 279.1M451.9 291.7L460.1 283.5M451.9 296.1L460.1 287.9M453.5 298.9L460.1 292.3M457.9 298.9L460.1 296.7M505.5 298.7L505.7 298.9M505.5 294.3L510.1 298.9M508.8 293.2L513.7 298.1M513.2 293.2L513.7 293.7M505.5 295.3L507.6 293.2M506.3 298.9L512 293.2M510.7 298.9L513.7 295.9M559.1 299.5L559.4 299.8M562.9 298.9L563.8 299.8M562.6 299.8L563.5 298.9M567 299.8L567.3 299.5M593.4 316.1L595.9 318.7M593.4 311.8L600.3 318.7M593.4 307.4L601.6 315.6M593.4 302.9L601.6 311.2M593.7 298.9L601.6 306.8M598.1 298.9L601.6 302.4M593.4 299.9L594.3 298.9M593.4 304.2L598.7 298.9M593.4 308.7L601.6 300.5M593.4 313.1L601.6 304.9M593.4 317.5L601.6 309.2M596.5 318.7L601.6 313.6M600.9 318.7L601.6 318M612.8 309.1L616.2 312.6M612.8 304.8L620.6 312.6M612.8 300.3L621 308.6M615.7 298.9L621 304.2M620.1 298.9L621 299.8M612.8 302.5L616.3 298.9M612.8 306.9L620.7 298.9M612.8 311.3L621 303.1M615.8 312.6L621 307.5M620.2 312.6L621 311.9M647 312.6L648.8 314.4M647 308.2L653.2 314.4M647 303.8L655.2 312M647 299.4L655.2 307.6M650.9 298.9L655.2 303.2M647 303.4L651.5 298.9M647 307.8L655.2 299.6M647 312.2L655.2 304M649.2 314.4L655.2 308.4M653.6 314.4L655.2 312.8M666.4 305.6L667.8 307M666.4 301.2L672.2 307M668.5 298.9L674.6 305M672.9 298.9L674.6 300.6M666.4 301.6L669.1 298.9M666.4 306L673.5 298.9M669.8 307L674.6 302.2M674.2 307L674.6 306.6M601.2 258L603.3 260.1M602.5 254.9L606.4 258.8M601.2 256.8L603.1 254.9M602.3 260.1L606.4 256" stroke="#b4b4b4" stroke-width="0.72" fill="none"/>
<path d="M76.5 298.9h8.2v13.6h-8.2zM130.1 298.9h8.2v3.6h-8.2zM183.8 298.9h8.2v11.5h-8.2zM237.4 298.9h8.2v6.7h-8.2zM291 295h8.2v3.9h-8.2zM344.6 261.9h8.2v37h-8.2zM398.2 231.6h8.2v67.3h-8.2zM451.9 259.4h8.2v39.5h-8.2zM505.5 293.2h8.2v5.7h-8.2zM559.1 298.9h8.2v0.9h-8.2zM593.4 298.9h8.2v19.8h-8.2zM612.8 298.9h8.2v13.7h-8.2zM647 298.9h8.2v15.5h-8.2zM666.4 298.9h8.2v8.1h-8.2zM601.2 254.9h5.2v5.2h-5.2z" fill="none" stroke="#0a0a0a" stroke-width="0.8"/>
<text x="608.80" y="214.30" font-size="10.2" text-anchor="start" >SJ6(-10kpa)</text>
<text x="608.80" y="229.80" font-size="10.2" text-anchor="start" >SJ6(-40kpa)</text>
<text x="608.80" y="245.30" font-size="10.2" text-anchor="start" >DN425(-10kpa)</text>
<text x="608.80" y="260.80" font-size="10.2" text-anchor="start" >DN425(-40kpa)</text>
<text x="31.00" y="594.80" font-size="10" text-anchor="end" >2.5</text>
<text x="31.00" y="629.70" font-size="10" text-anchor="end" >2</text>
<text x="31.00" y="664.70" font-size="10" text-anchor="end" >1.5</text>
<text x="31.00" y="699.70" font-size="10" text-anchor="end" >1</text>
<text x="31.00" y="734.60" font-size="10" text-anchor="end" >0.5</text>
<text x="31.00" y="769.50" font-size="10" text-anchor="end" >0</text>
<text transform="translate(12.00 676.60) rotate(-90)" font-size="10" text-anchor="middle" word-spacing="0.5">soluble sugar content(g /100g FW)</text>
<text x="62.00" y="615.00" font-size="12.6" text-anchor="start" >F</text>
<text x="65.62" y="711.50" font-size="10" text-anchor="middle" >D3</text>
<text x="119.26" y="711.50" font-size="10" text-anchor="middle" >D6</text>
<text x="172.90" y="711.50" font-size="10" text-anchor="middle" >D9</text>
<text x="226.55" y="711.50" font-size="10" text-anchor="middle" >D12</text>
<text x="280.19" y="711.50" font-size="10" text-anchor="middle" >D15</text>
<text x="333.83" y="711.50" font-size="10" text-anchor="middle" >D18</text>
<text x="387.47" y="711.50" font-size="10" text-anchor="middle" >D21</text>
<text x="441.11" y="711.50" font-size="10" text-anchor="middle" >R3</text>
<text x="494.75" y="711.50" font-size="10" text-anchor="middle" >R6</text>
<text x="548.40" y="711.50" font-size="10" text-anchor="middle" >R9</text>
<text x="602.04" y="711.50" font-size="10" text-anchor="middle" >R12</text>
<text x="655.68" y="711.50" font-size="10" text-anchor="middle" >R15</text>
<text x="226.45" y="729.80" font-size="10" text-anchor="middle" letter-spacing="0.02" word-spacing="0.7">DROUGHT STRESS(DAYS)</text>
<text x="548.50" y="729.80" font-size="10" text-anchor="middle" >RE-WATERING(DAYS)</text>
<line x1="39.50" y1="591.50" x2="39.50" y2="766.20" stroke="#5a5a5a" stroke-width="1.0"/>
<line x1="39.50" y1="696.50" x2="683.20" y2="696.50" stroke="#4c4c4c" stroke-width="1.0"/>
<line x1="414.50" y1="696.50" x2="414.50" y2="732.20" stroke="#5a5a5a" stroke-width="1.0"/>
<line x1="683.50" y1="696.50" x2="683.50" y2="732.20" stroke="#5a5a5a" stroke-width="1.0"/>
<path d="M48 696.5h8.2v41.1h-8.2zM101.6 696.5h8.2v25.9h-8.2zM155.3 696.5h8.2v17.2h-8.2zM208.9 696.5h8.2v0.8h-8.2zM262.6 688.4h8.2v8.1h-8.2zM316.2 687.4h8.2v9.1h-8.2zM369.9 676.4h8.2v20.1h-8.2zM423.5 683.1h8.2v13.4h-8.2zM477.1 696.5h8.2v3.9h-8.2zM530.8 696.5h8.2v1.9h-8.2zM584.4 696.5h8.2v7.5h-8.2zM638.1 696.5h8.2v18.7h-8.2zM599.8 599.6h5.2v5.2h-5.2z" fill="#ececec"/>
<path d="M48 736.6L49 737.6M48 734.4L51.2 737.6M48 732.2L53.4 737.6M48 730L55.6 737.6M48 727.8L56.2 736M48 725.6L56.2 733.8M48 723.4L56.2 731.6M48 721.2L56.2 729.4M48 719L56.2 727.2M48 716.8L56.2 725M48 714.6L56.2 722.8M48 712.4L56.2 720.6M48 710.2L56.2 718.4M48 708L56.2 716.2M48 705.8L56.2 714M48 703.6L56.2 711.8M48 701.4L56.2 709.6M48 699.2L56.2 707.4M48 697L56.2 705.2M49.7 696.5L56.2 703M51.9 696.5L56.2 700.8M54.1 696.5L56.2 698.6M48 697.8L49.3 696.5M48 700L51.5 696.5M48 702.2L53.7 696.5M48 704.4L55.9 696.5M48 706.6L56.2 698.4M48 708.8L56.2 700.6M48 711L56.2 702.8M48 713.2L56.2 705M48 715.4L56.2 707.2M48 717.6L56.2 709.4M48 719.8L56.2 711.6M48 722L56.2 713.8M48 724.2L56.2 716M48 726.4L56.2 718.2M48 728.6L56.2 720.4M48 730.8L56.2 722.6M48 733L56.2 724.8M48 735.2L56.2 727M48 737.4L56.2 729.2M50 737.6L56.2 731.4M52.2 737.6L56.2 733.6M54.4 737.6L56.2 735.8M101.6 722L102 722.4M101.6 719.8L104.2 722.4M101.6 717.6L106.4 722.4M101.6 715.4L108.6 722.4M101.6 713.2L109.8 721.4M101.6 711L109.8 719.2M101.6 708.8L109.8 717M101.6 706.6L109.8 714.8M101.6 704.4L109.8 712.6M101.6 702.2L109.8 710.4M101.6 700L109.8 708.2M101.6 697.8L109.8 706M102.5 696.5L109.8 703.8M104.7 696.5L109.8 701.6M106.9 696.5L109.8 699.4M109.1 696.5L109.8 697.2M101.6 697L102.1 696.5M101.6 699.2L104.3 696.5M101.6 701.4L106.5 696.5M101.6 703.6L108.7 696.5M101.6 705.8L109.8 697.6M101.6 708L109.8 699.8M101.6 710.2L109.8 702M101.6 712.4L109.8 704.2M101.6 714.6L109.8 706.4M101.6 716.8L109.8 708.6M101.6 719L109.8 710.8M101.6 721.2L109.8 713M102.6 722.4L109.8 715.2M104.8 722.4L109.8 717.4M107 722.4L109.8 719.6M109.2 722.4L109.8 721.8M155.3 711.9L157.1 713.7M155.3 709.7L159.3 713.7M155.3 707.5L161.5 713.7M155.3 705.3L163.5 713.5M155.3 703.1L163.5 711.3M155.3 700.9L163.5 709.1M155.3 698.7L163.5 706.9M155.3 696.5L163.5 704.7M157.5 696.5L163.5 702.5M159.7 696.5L163.5 700.3M161.9 696.5L163.5 698.1M155.3 698.3L157.1 696.5M155.3 700.5L159.3 696.5M155.3 702.7L161.5 696.5M155.3 704.9L163.5 696.7M155.3 707.1L163.5 698.9M155.3 709.3L163.5 701.1M155.3 711.5L163.5 703.3M155.3 713.7L163.5 705.5M157.5 713.7L163.5 707.7M159.7 713.7L163.5 709.9M161.9 713.7L163.5 712.1M210.3 696.5L211.1 697.3M212.5 696.5L213.3 697.3M214.7 696.5L215.5 697.3M216.9 696.5L217.1 696.7M209.1 697.3L209.9 696.5M211.3 697.3L212.1 696.5M213.5 697.3L214.3 696.5M215.7 697.3L216.5 696.5M262.6 696L263.1 696.5M262.6 693.8L265.3 696.5M262.6 691.6L267.5 696.5M262.6 689.4L269.7 696.5M263.8 688.4L270.8 695.4M266 688.4L270.8 693.2M268.2 688.4L270.8 691M270.4 688.4L270.8 688.8M262.6 690L264.2 688.4M262.6 692.2L266.4 688.4M262.6 694.4L268.6 688.4M262.7 696.5L270.8 688.4M264.9 696.5L270.8 690.6M267.1 696.5L270.8 692.8M269.3 696.5L270.8 695M316.2 694.6L318.1 696.5M316.2 692.4L320.3 696.5M316.2 690.2L322.5 696.5M316.2 688L324.4 696.2M317.8 687.4L324.4 694M320 687.4L324.4 691.8M322.2 687.4L324.4 689.6M316.2 689.2L318 687.4M316.2 691.4L320.2 687.4M316.2 693.6L322.4 687.4M316.2 695.8L324.4 687.6M317.7 696.5L324.4 689.8M319.9 696.5L324.4 692M322.1 696.5L324.4 694.2M369.9 695.5L370.9 696.5M369.9 693.2L373.1 696.5M369.9 691.1L375.3 696.5M369.9 688.9L377.5 696.5M369.9 686.7L378.1 694.9M369.9 684.5L378.1 692.7M369.9 682.2L378.1 690.5M369.9 680.1L378.1 688.2M369.9 677.9L378.1 686M370.6 676.4L378.1 683.9M372.8 676.4L378.1 681.7M375 676.4L378.1 679.5M377.2 676.4L378.1 677.2M369.9 677.4L370.8 676.4M369.9 679.6L373 676.4M369.9 681.8L375.2 676.4M369.9 684L377.4 676.4M369.9 686.1L378.1 678M369.9 688.4L378.1 680.2M369.9 690.6L378.1 682.4M369.9 692.8L378.1 684.6M369.9 695L378.1 686.8M370.5 696.5L378.1 689M372.7 696.5L378.1 691.2M374.9 696.5L378.1 693.4M377.1 696.5L378.1 695.6M423.5 696.3L423.7 696.5M423.5 694.1L425.9 696.5M423.5 691.9L428.1 696.5M423.5 689.7L430.3 696.5M423.5 687.5L431.7 695.7M423.5 685.3L431.7 693.5M423.5 683.1L431.7 691.3M425.7 683.1L431.7 689.1M427.9 683.1L431.7 686.9M430.1 683.1L431.7 684.7M423.5 685.3L425.7 683.1M423.5 687.5L427.9 683.1M423.5 689.7L430.1 683.1M423.5 691.9L431.7 683.7M423.5 694.1L431.7 685.9M423.5 696.3L431.7 688.1M425.5 696.5L431.7 690.3M427.7 696.5L431.7 692.5M429.9 696.5L431.7 694.7M477.1 699.3L478.2 700.4M477.1 697.1L480.4 700.4M478.7 696.5L482.6 700.4M480.9 696.5L484.8 700.4M483.1 696.5L485.3 698.7M477.1 697.7L478.3 696.5M477.1 699.9L480.5 696.5M478.8 700.4L482.7 696.5M481 700.4L484.9 696.5M483.2 700.4L485.3 698.3M530.8 698L531.2 698.4M531.5 696.5L533.4 698.4M533.7 696.5L535.6 698.4M535.9 696.5L537.8 698.4M538.1 696.5L539 697.4M530.8 696.8L531.1 696.5M531.4 698.4L533.3 696.5M533.6 698.4L535.5 696.5M535.8 698.4L537.7 696.5M538 698.4L539 697.4M584.4 703.2L585.2 704M584.4 701L587.4 704M584.4 698.8L589.6 704M584.4 696.6L591.8 704M586.5 696.5L592.6 702.6M588.7 696.5L592.6 700.4M590.9 696.5L592.6 698.2M584.4 698.2L586.1 696.5M584.4 700.4L588.3 696.5M584.4 702.6L590.5 696.5M585.2 704L592.6 696.6M587.4 704L592.6 698.8M589.6 704L592.6 701M591.8 704L592.6 703.2M638.1 712.9L640.4 715.2M638.1 710.7L642.6 715.2M638.1 708.5L644.8 715.2M638.1 706.3L646.3 714.5M638.1 704.1L646.3 712.3M638.1 701.9L646.3 710.1M638.1 699.7L646.3 707.9M638.1 697.5L646.3 705.7M639.3 696.5L646.3 703.5M641.5 696.5L646.3 701.3M643.7 696.5L646.3 699.1M645.9 696.5L646.3 696.9M638.1 697.3L638.9 696.5M638.1 699.5L641.1 696.5M638.1 701.7L643.3 696.5M638.1 703.9L645.5 696.5M638.1 706.1L646.3 697.9M638.1 708.3L646.3 700.1M638.1 710.5L646.3 702.3M638.1 712.7L646.3 704.5M638.1 714.9L646.3 706.7M640 715.2L646.3 708.9M642.2 715.2L646.3 711.1M644.4 715.2L646.3 713.3M599.8 604.2L600.4 604.8M599.8 602L602.6 604.8M599.8 599.8L604.8 604.8M601.8 599.6L605 602.8M604 599.6L605 600.6M599.8 601.4L601.6 599.6M599.8 603.6L603.8 599.6M600.8 604.8L605 600.6M603 604.8L605 602.8" stroke="#a2a2a2" stroke-width="0.55" fill="none"/>
<path d="M48 696.5h8.2v41.1h-8.2zM101.6 696.5h8.2v25.9h-8.2zM155.3 696.5h8.2v17.2h-8.2zM208.9 696.5h8.2v0.8h-8.2zM262.6 688.4h8.2v8.1h-8.2zM316.2 687.4h8.2v9.1h-8.2zM369.9 676.4h8.2v20.1h-8.2zM423.5 683.1h8.2v13.4h-8.2zM477.1 696.5h8.2v3.9h-8.2zM530.8 696.5h8.2v1.9h-8.2zM584.4 696.5h8.2v7.5h-8.2zM638.1 696.5h8.2v18.7h-8.2zM599.8 599.6h5.2v5.2h-5.2z" fill="none" stroke="#383838" stroke-width="0.95"/>
<path d="M57.7 722.1L60 724.4M57.7 717.7L64.4 724.4M57.7 713.3L65.9 721.5M57.7 708.9L65.9 717.1M57.7 704.5L65.9 712.7M57.7 700.1L65.9 708.3M58.5 696.5L65.9 703.9M62.9 696.5L65.9 699.5M57.7 699.1L60.3 696.5M57.7 703.5L64.7 696.5M57.7 707.9L65.9 699.7M57.7 712.3L65.9 704.1M57.7 716.7L65.9 708.5M57.7 721.1L65.9 712.9M58.8 724.4L65.9 717.3M63.2 724.4L65.9 721.7M111.3 700.9L111.8 701.4M111.3 696.5L116.2 701.4M115.7 696.5L119.5 700.3M111.3 698.3L113.1 696.5M112.6 701.4L117.5 696.5M117 701.4L119.5 698.9M165.6 693.6L168.5 696.5M170 693.6L172.9 696.5M165.9 696.5L168.8 693.6M170.3 696.5L173.2 693.6M218.6 693.8L221.3 696.5M218.6 689.4L225.7 696.5M218.6 685L226.8 693.2M218.6 680.6L226.8 688.8M218.8 676.4L226.8 684.4M223.2 676.4L226.8 680M218.6 679L221.2 676.4M218.6 683.4L225.6 676.4M218.6 687.8L226.8 679.6M218.6 692.2L226.8 684M218.7 696.5L226.8 688.4M223.1 696.5L226.8 692.8M272.3 694.7L274.1 696.5M272.3 690.3L278.5 696.5M272.3 685.9L280.5 694.1M272.3 681.5L280.5 689.7M272.3 677.1L280.5 685.3M272.3 672.7L280.5 680.9M272.3 668.3L280.5 676.5M272.7 664.3L280.5 672.1M277.1 664.3L280.5 667.7M272.3 664.9L272.9 664.3M272.3 669.3L277.3 664.3M272.3 673.7L280.5 665.5M272.3 678.1L280.5 669.9M272.3 682.5L280.5 674.3M272.3 686.9L280.5 678.7M272.3 691.3L280.5 683.1M272.3 695.7L280.5 687.5M275.9 696.5L280.5 691.9M280.3 696.5L280.5 696.3M325.9 695.5L326.9 696.5M325.9 691.1L331.3 696.5M325.9 686.7L334.1 694.9M325.9 682.3L334.1 690.5M325.9 677.9L334.1 686.1M325.9 673.5L334.1 681.7M325.9 669.1L334.1 677.3M325.9 664.7L334.1 672.9M327.9 662.3L334.1 668.5M332.3 662.3L334.1 664.1M325.9 664.1L327.7 662.3M325.9 668.5L332.1 662.3M325.9 672.9L334.1 664.7M325.9 677.3L334.1 669.1M325.9 681.7L334.1 673.5M325.9 686.1L334.1 677.9M325.9 690.5L334.1 682.3M325.9 694.9L334.1 686.7M328.7 696.5L334.1 691.1M333.1 696.5L334.1 695.5M379.6 692L384.1 696.5M379.6 687.5L387.8 695.8M379.6 683.2L387.8 691.4M379.6 678.8L387.8 687M379.6 674.4L387.8 682.5M379.6 670L387.8 678.2M379.6 665.5L387.8 673.8M379.6 661.2L387.8 669.4M379.6 656.8L387.8 665M379.6 652.4L387.8 660.5M379.6 648L387.8 656.2M379.6 643.5L387.8 651.8M379.6 639.2L387.8 647.4M379.6 634.8L387.8 643M382.5 633.3L387.8 638.5M386.9 633.3L387.8 634.2M379.6 636.9L383.1 633.3M379.6 641.2L387.5 633.3M379.6 645.7L387.8 637.5M379.6 650.1L387.8 641.9M379.6 654.5L387.8 646.2M379.6 658.9L387.8 650.7M379.6 663.3L387.8 655.1M379.6 667.7L387.8 659.5M379.6 672.1L387.8 663.9M379.6 676.5L387.8 668.2M379.6 680.9L387.8 672.7M379.6 685.3L387.8 677.1M379.6 689.7L387.8 681.5M379.6 694.1L387.8 685.9M381.5 696.5L387.8 690.2M385.9 696.5L387.8 694.7M433.2 692.8L436.9 696.5M433.2 688.4L441.3 696.5M433.2 684L441.4 692.2M433.2 679.6L441.4 687.8M434.7 676.7L441.4 683.4M439.1 676.7L441.4 679M433.2 680L436.5 676.7M433.2 684.4L440.9 676.7M433.2 688.8L441.4 680.6M433.2 693.2L441.4 685M434.3 696.5L441.4 689.4M438.7 696.5L441.4 693.8M486.8 693.6L489.7 696.5M486.8 689.2L494.1 696.5M486.8 684.8L495 693M488.7 682.3L495 688.6M493.1 682.3L495 684.2M486.8 683.6L488.1 682.3M486.8 688L492.5 682.3M486.8 692.4L495 684.2M487.1 696.5L495 688.6M491.5 696.5L495 693M540.5 694.5L542.5 696.5M543.6 693.2L546.9 696.5M548 693.2L548.7 693.9M540.5 695.9L543.2 693.2M544.3 696.5L547.6 693.2M594.3 695.5L595.3 696.5M598.7 695.5L599.7 696.5M597.1 696.5L598.1 695.5M601.5 696.5L602.3 695.7M647.8 705L649.8 707M647.8 700.6L654.2 707M648.1 696.5L656 704.4M652.5 696.5L656 700M647.8 698.6L649.9 696.5M647.8 703L654.3 696.5M648.2 707L656 699.2M652.6 707L656 703.6M599.8 617.4L603.5 621.1M602.7 615.9L605 618.2M599.8 619L602.9 615.9M602.1 621.1L605 618.2" stroke="#707070" stroke-width="0.8" fill="none"/>
<path d="M57.7 696.5h8.2v27.9h-8.2zM111.3 696.5h8.2v4.9h-8.2zM165 693.6h8.2v2.9h-8.2zM218.6 676.4h8.2v20.1h-8.2zM272.3 664.3h8.2v32.2h-8.2zM325.9 662.3h8.2v34.2h-8.2zM379.6 633.3h8.2v63.2h-8.2zM433.2 676.7h8.2v19.8h-8.2zM486.8 682.3h8.2v14.2h-8.2zM540.5 693.2h8.2v3.3h-8.2zM594.1 695.5h8.2v1h-8.2zM647.8 696.5h8.2v10.5h-8.2zM599.8 615.9h5.2v5.2h-5.2z" fill="none" stroke="#383838" stroke-width="0.95"/>
<path d="M67.4 696.5h8.2v39.6h-8.2zM121 696.5h8.2v36h-8.2zM174.7 696.5h8.2v9.7h-8.2zM228.3 690.3h8.2v6.2h-8.2zM282 683.6h8.2v12.9h-8.2zM335.6 683.1h8.2v13.4h-8.2zM389.2 653.1h8.2v43.4h-8.2zM442.9 661.6h8.2v34.9h-8.2zM496.5 696.5h8.2v1.2h-8.2zM550.2 696.5h8.2v14.4h-8.2zM603.8 696.5h8.2v16.4h-8.2zM657.5 696.5h8.2v10.8h-8.2zM599.8 632.1h5.2v5.2h-5.2z" fill="#1e1e1e"/>
<path d="M67.4 734L69.5 736.1M67.4 731.8L71.7 736.1M67.4 729.6L73.9 736.1M67.4 727.4L75.6 735.6M67.4 725.2L75.6 733.4M67.4 723L75.6 731.2M67.4 720.8L75.6 729M67.4 718.6L75.6 726.8M67.4 716.4L75.6 724.6M67.4 714.2L75.6 722.4M67.4 712L75.6 720.2M67.4 709.8L75.6 718M67.4 707.6L75.6 715.8M67.4 705.4L75.6 713.6M67.4 703.2L75.6 711.4M67.4 701L75.6 709.2M67.4 698.8L75.6 707M67.4 696.6L75.6 704.8M69.5 696.5L75.6 702.6M71.7 696.5L75.6 700.4M73.9 696.5L75.6 698.2M67.4 698.2L69.1 696.5M67.4 700.4L71.3 696.5M67.4 702.6L73.5 696.5M67.4 704.8L75.6 696.6M67.4 707L75.6 698.8M67.4 709.2L75.6 701M67.4 711.4L75.6 703.2M67.4 713.6L75.6 705.4M67.4 715.8L75.6 707.6M67.4 718L75.6 709.8M67.4 720.2L75.6 712M67.4 722.4L75.6 714.2M67.4 724.6L75.6 716.4M67.4 726.8L75.6 718.6M67.4 729L75.6 720.8M67.4 731.2L75.6 723M67.4 733.4L75.6 725.2M67.4 735.6L75.6 727.4M69.1 736.1L75.6 729.6M71.3 736.1L75.6 731.8M73.5 736.1L75.6 734M121 730.4L123.1 732.5M121 728.2L125.3 732.5M121 726L127.5 732.5M121 723.8L129.2 732M121 721.6L129.2 729.8M121 719.4L129.2 727.6M121 717.2L129.2 725.4M121 715L129.2 723.2M121 712.8L129.2 721M121 710.6L129.2 718.8M121 708.4L129.2 716.6M121 706.2L129.2 714.4M121 704L129.2 712.2M121 701.8L129.2 710M121 699.6L129.2 707.8M121 697.4L129.2 705.6M122.3 696.5L129.2 703.4M124.5 696.5L129.2 701.2M126.7 696.5L129.2 699M128.9 696.5L129.2 696.8M121 697.4L121.9 696.5M121 699.6L124.1 696.5M121 701.8L126.3 696.5M121 704L128.5 696.5M121 706.2L129.2 698M121 708.4L129.2 700.2M121 710.6L129.2 702.4M121 712.8L129.2 704.6M121 715L129.2 706.8M121 717.2L129.2 709M121 719.4L129.2 711.2M121 721.6L129.2 713.4M121 723.8L129.2 715.6M121 726L129.2 717.8M121 728.2L129.2 720M121 730.4L129.2 722.2M121.1 732.5L129.2 724.4M123.3 732.5L129.2 726.6M125.5 732.5L129.2 728.8M127.7 732.5L129.2 731M174.7 704.9L176 706.2M174.7 702.7L178.2 706.2M174.7 700.5L180.4 706.2M174.7 698.3L182.6 706.2M175.1 696.5L182.9 704.3M177.3 696.5L182.9 702.1M179.5 696.5L182.9 699.9M181.7 696.5L182.9 697.7M174.7 698.7L176.9 696.5M174.7 700.9L179.1 696.5M174.7 703.1L181.3 696.5M174.7 705.3L182.9 697.1M176 706.2L182.9 699.3M178.2 706.2L182.9 701.5M180.4 706.2L182.9 703.7M182.6 706.2L182.9 705.9M228.3 694.7L230.1 696.5M228.3 692.5L232.3 696.5M228.3 690.3L234.5 696.5M230.5 690.3L236.5 696.3M232.7 690.3L236.5 694.1M234.9 690.3L236.5 691.9M228.3 691.3L229.3 690.3M228.3 693.5L231.5 690.3M228.3 695.7L233.7 690.3M229.7 696.5L235.9 690.3M231.9 696.5L236.5 691.9M234.1 696.5L236.5 694.1M236.3 696.5L236.5 696.3M282 695.6L282.9 696.5M282 693.4L285.1 696.5M282 691.2L287.3 696.5M282 689L289.5 696.5M282 686.8L290.2 695M282 684.6L290.2 692.8M283.2 683.6L290.2 690.6M285.4 683.6L290.2 688.4M287.6 683.6L290.2 686.2M289.8 683.6L290.2 684M282 683.8L282.2 683.6M282 686L284.4 683.6M282 688.2L286.6 683.6M282 690.4L288.8 683.6M282 692.6L290.2 684.4M282 694.8L290.2 686.6M282.5 696.5L290.2 688.8M284.7 696.5L290.2 691M286.9 696.5L290.2 693.2M289.1 696.5L290.2 695.4M335.6 694.2L337.9 696.5M335.6 692L340.1 696.5M335.6 689.8L342.3 696.5M335.6 687.6L343.8 695.8M335.6 685.4L343.8 693.6M335.6 683.2L343.8 691.4M337.7 683.1L343.8 689.2M339.9 683.1L343.8 687M342.1 683.1L343.8 684.8M335.6 685.2L337.7 683.1M335.6 687.4L339.9 683.1M335.6 689.6L342.1 683.1M335.6 691.8L343.8 683.6M335.6 694L343.8 685.8M335.6 696.2L343.8 688M337.5 696.5L343.8 690.2M339.7 696.5L343.8 692.4M341.9 696.5L343.8 694.6M389.2 695L390.7 696.5M389.2 692.9L392.9 696.5M389.2 690.7L395.1 696.5M389.2 688.5L397.3 696.5M389.2 686.2L397.4 694.5M389.2 684L397.4 692.2M389.2 681.9L397.4 690M389.2 679.7L397.4 687.9M389.2 677.5L397.4 685.7M389.2 675.2L397.4 683.5M389.2 673L397.4 681.2M389.2 670.9L397.4 679M389.2 668.7L397.4 676.9M389.2 666.5L397.4 674.7M389.2 664.2L397.4 672.5M389.2 662L397.4 670.2M389.2 659.9L397.4 668M389.2 657.7L397.4 665.9M389.2 655.5L397.4 663.7M389.2 653.2L397.4 661.5M391.3 653.1L397.4 659.2M393.5 653.1L397.4 657M395.7 653.1L397.4 654.9M389.2 653.6L389.7 653.1M389.2 655.8L391.9 653.1M389.2 658L394.1 653.1M389.2 660.2L396.3 653.1M389.2 662.4L397.4 654.2M389.2 664.6L397.4 656.4M389.2 666.8L397.4 658.5M389.2 669L397.4 660.8M389.2 671.2L397.4 663M389.2 673.4L397.4 665.2M389.2 675.6L397.4 667.4M389.2 677.8L397.4 669.5M389.2 680L397.4 671.8M389.2 682.2L397.4 674M389.2 684.4L397.4 676.2M389.2 686.6L397.4 678.4M389.2 688.8L397.4 680.5M389.2 691L397.4 682.8M389.2 693.2L397.4 685M389.2 695.4L397.4 687.2M390.3 696.5L397.4 689.4M392.5 696.5L397.4 691.5M394.7 696.5L397.4 693.8M396.9 696.5L397.4 696M442.9 695.9L443.5 696.5M442.9 693.7L445.7 696.5M442.9 691.5L447.9 696.5M442.9 689.3L450.1 696.5M442.9 687.1L451.1 695.3M442.9 684.9L451.1 693.1M442.9 682.7L451.1 690.9M442.9 680.5L451.1 688.7M442.9 678.3L451.1 686.5M442.9 676.1L451.1 684.3M442.9 673.9L451.1 682.1M442.9 671.7L451.1 679.9M442.9 669.5L451.1 677.7M442.9 667.3L451.1 675.5M442.9 665.1L451.1 673.3M442.9 662.9L451.1 671.1M443.8 661.6L451.1 668.9M446 661.6L451.1 666.7M448.2 661.6L451.1 664.5M450.4 661.6L451.1 662.3M442.9 663.7L445 661.6M442.9 665.9L447.2 661.6M442.9 668.1L449.4 661.6M442.9 670.3L451.1 662.1M442.9 672.5L451.1 664.3M442.9 674.7L451.1 666.5M442.9 676.9L451.1 668.7M442.9 679.1L451.1 670.9M442.9 681.3L451.1 673.1M442.9 683.5L451.1 675.3M442.9 685.7L451.1 677.5M442.9 687.9L451.1 679.7M442.9 690.1L451.1 681.9M442.9 692.3L451.1 684.1M442.9 694.5L451.1 686.3M443.1 696.5L451.1 688.5M445.3 696.5L451.1 690.7M447.5 696.5L451.1 692.9M449.7 696.5L451.1 695.1M496.5 696.7L497.5 697.7M498.5 696.5L499.7 697.7M500.7 696.5L501.9 697.7M502.9 696.5L504.1 697.7M496.9 697.7L498.1 696.5M499.1 697.7L500.3 696.5M501.3 697.7L502.5 696.5M503.5 697.7L504.7 696.5M550.2 708.6L552.5 710.9M550.2 706.4L554.7 710.9M550.2 704.2L556.9 710.9M550.2 702L558.4 710.2M550.2 699.8L558.4 708M550.2 697.6L558.4 705.8M551.3 696.5L558.4 703.6M553.5 696.5L558.4 701.4M555.7 696.5L558.4 699.2M557.9 696.5L558.4 697M550.2 697.2L550.9 696.5M550.2 699.4L553.1 696.5M550.2 701.6L555.3 696.5M550.2 703.8L557.5 696.5M550.2 706L558.4 697.8M550.2 708.2L558.4 700M550.2 710.4L558.4 702.2M551.9 710.9L558.4 704.4M554.1 710.9L558.4 706.6M556.3 710.9L558.4 708.8M603.8 711.6L605.1 712.9M603.8 709.4L607.3 712.9M603.8 707.2L609.5 712.9M603.8 705L611.7 712.9M603.8 702.8L612 711M603.8 700.6L612 708.8M603.8 698.4L612 706.6M604.1 696.5L612 704.4M606.3 696.5L612 702.2M608.5 696.5L612 700M610.7 696.5L612 697.8M603.8 698.6L605.9 696.5M603.8 700.8L608.1 696.5M603.8 703L610.3 696.5M603.8 705.2L612 697M603.8 707.4L612 699.2M603.8 709.6L612 701.4M603.8 711.8L612 703.6M604.9 712.9L612 705.8M607.1 712.9L612 708M609.3 712.9L612 710.2M611.5 712.9L612 712.4M657.5 705.9L658.9 707.3M657.5 703.7L661.1 707.3M657.5 701.5L663.3 707.3M657.5 699.3L665.5 707.3M657.5 697.1L665.7 705.3M659.1 696.5L665.7 703.1M661.3 696.5L665.7 700.9M663.5 696.5L665.7 698.7M657.5 697.7L658.7 696.5M657.5 699.9L660.9 696.5M657.5 702.1L663.1 696.5M657.5 704.3L665.3 696.5M657.5 706.5L665.7 698.3M658.9 707.3L665.7 700.5M661.1 707.3L665.7 702.7M663.3 707.3L665.7 704.9M665.5 707.3L665.7 707.1M599.8 635L602.1 637.3M599.8 632.8L604.3 637.3M601.3 632.1L605 635.8M603.5 632.1L605 633.6M599.8 634.4L602.1 632.1M599.8 636.6L604.3 632.1M601.3 637.3L605 633.6M603.5 637.3L605 635.8" stroke="#888888" stroke-width="0.55" fill="none"/>
<path d="M67.4 696.5h8.2v39.6h-8.2zM121 696.5h8.2v36h-8.2zM174.7 696.5h8.2v9.7h-8.2zM228.3 690.3h8.2v6.2h-8.2zM282 683.6h8.2v12.9h-8.2zM335.6 683.1h8.2v13.4h-8.2zM389.2 653.1h8.2v43.4h-8.2zM442.9 661.6h8.2v34.9h-8.2zM496.5 696.5h8.2v1.2h-8.2zM550.2 696.5h8.2v14.4h-8.2zM603.8 696.5h8.2v16.4h-8.2zM657.5 696.5h8.2v10.8h-8.2zM599.8 632.1h5.2v5.2h-5.2z" fill="none" stroke="#1c1c1c" stroke-width="0.8"/>
<path d="M77.1 696.5h8.2v33.8h-8.2zM130.7 694.3h8.2v2.2h-8.2zM184.4 684.6h8.2v11.9h-8.2zM238 673.7h8.2v22.8h-8.2zM291.7 648.9h8.2v47.6h-8.2zM345.3 646.4h8.2v50.1h-8.2zM399 623.8h8.2v72.7h-8.2zM452.6 636h8.2v60.5h-8.2zM506.2 669.2h8.2v27.3h-8.2zM559.9 678h8.2v18.5h-8.2zM613.5 682.3h8.2v14.2h-8.2zM667.2 696.5h8.2v5.2h-8.2zM599.8 648.3h5.2v5.2h-5.2z" fill="#050505"/>
<path d="M77.1 728.3L79.1 730.3M77.1 723.9L83.5 730.3M77.1 719.5L85.3 727.7M77.1 715.1L85.3 723.3M77.1 710.7L85.3 718.9M77.1 706.3L85.3 714.5M77.1 701.9L85.3 710.1M77.1 697.5L85.3 705.7M80.5 696.5L85.3 701.3M84.9 696.5L85.3 696.9M77.1 697.3L77.9 696.5M77.1 701.7L82.3 696.5M77.1 706.1L85.3 697.9M77.1 710.5L85.3 702.3M77.1 714.9L85.3 706.7M77.1 719.3L85.3 711.1M77.1 723.7L85.3 715.5M77.1 728.1L85.3 719.9M79.3 730.3L85.3 724.3M83.7 730.3L85.3 728.7M131.1 694.3L133.3 696.5M135.5 694.3L137.7 696.5M130.7 696.5L132.9 694.3M135.1 696.5L137.3 694.3M184.4 694.8L186.1 696.5M184.4 690.4L190.5 696.5M184.4 686L192.6 694.2M187.4 684.6L192.6 689.8M191.8 684.6L192.6 685.4M184.4 686.8L186.6 684.6M184.4 691.2L191 684.6M184.4 695.6L192.6 687.4M187.9 696.5L192.6 691.8M192.3 696.5L192.6 696.2M238 695.6L238.9 696.5M238 691.2L243.3 696.5M238 686.8L246.2 695M238 682.4L246.2 690.6M238 678L246.2 686.2M238.1 673.7L246.2 681.8M242.5 673.7L246.2 677.4M238 677.2L241.5 673.7M238 681.6L245.9 673.7M238 686L246.2 677.8M238 690.4L246.2 682.2M238 694.8L246.2 686.6M240.7 696.5L246.2 691M245.1 696.5L246.2 695.4M291.7 692.1L296.1 696.5M291.7 687.7L299.9 695.9M291.7 683.3L299.9 691.5M291.7 678.9L299.9 687.1M291.7 674.5L299.9 682.7M291.7 670.1L299.9 678.3M291.7 665.7L299.9 673.9M291.7 661.3L299.9 669.5M291.7 656.9L299.9 665.1M291.7 652.5L299.9 660.7M292.5 648.9L299.9 656.3M296.9 648.9L299.9 651.9M291.7 649.9L292.7 648.9M291.7 654.3L297.1 648.9M291.7 658.7L299.9 650.5M291.7 663.1L299.9 654.9M291.7 667.5L299.9 659.3M291.7 671.9L299.9 663.7M291.7 676.3L299.9 668.1M291.7 680.7L299.9 672.5M291.7 685.1L299.9 676.9M291.7 689.5L299.9 681.3M291.7 693.9L299.9 685.7M293.5 696.5L299.9 690.1M297.9 696.5L299.9 694.5M345.3 692.9L348.9 696.5M345.3 688.5L353.3 696.5M345.3 684.1L353.5 692.3M345.3 679.7L353.5 687.9M345.3 675.3L353.5 683.5M345.3 670.9L353.5 679.1M345.3 666.5L353.5 674.7M345.3 662.1L353.5 670.3M345.3 657.7L353.5 665.9M345.3 653.3L353.5 661.5M345.3 648.9L353.5 657.1M347.2 646.4L353.5 652.7M351.6 646.4L353.5 648.3M345.3 649.1L348 646.4M345.3 653.5L352.4 646.4M345.3 657.9L353.5 649.7M345.3 662.3L353.5 654.1M345.3 666.7L353.5 658.5M345.3 671.1L353.5 662.9M345.3 675.5L353.5 667.3M345.3 679.9L353.5 671.7M345.3 684.3L353.5 676.1M345.3 688.7L353.5 680.5M345.3 693.1L353.5 684.9M346.3 696.5L353.5 689.3M350.7 696.5L353.5 693.7M399 693.8L401.7 696.5M399 689.4L406.1 696.5M399 685L407.2 693.2M399 680.6L407.2 688.8M399 676.2L407.2 684.4M399 671.8L407.2 680M399 667.4L407.2 675.6M399 663L407.2 671.2M399 658.6L407.2 666.8M399 654.2L407.2 662.4M399 649.8L407.2 658M399 645.4L407.2 653.6M399 641L407.2 649.2M399 636.6L407.2 644.8M399 632.2L407.2 640.4M399 627.8L407.2 636M399.4 623.8L407.2 631.6M403.8 623.8L407.2 627.2M399 626.2L401.4 623.8M399 630.7L405.8 623.8M399 635L407.2 626.8M399 639.5L407.2 631.2M399 643.9L407.2 635.7M399 648.2L407.2 640M399 652.7L407.2 644.5M399 657L407.2 648.8M399 661.5L407.2 653.2M399 665.9L407.2 657.7M399 670.2L407.2 662M399 674.7L407.2 666.5M399 679L407.2 670.8M399 683.5L407.2 675.2M399 687.9L407.2 679.7M399 692.2L407.2 684M399.1 696.5L407.2 688.5M403.5 696.5L407.2 692.8M452.6 694.6L454.5 696.5M452.6 690.2L458.9 696.5M452.6 685.8L460.8 694M452.6 681.4L460.8 689.6M452.6 677L460.8 685.2M452.6 672.6L460.8 680.8M452.6 668.2L460.8 676.4M452.6 663.8L460.8 672M452.6 659.4L460.8 667.6M452.6 655L460.8 663.2M452.6 650.6L460.8 658.8M452.6 646.2L460.8 654.4M452.6 641.8L460.8 650M452.6 637.4L460.8 645.6M455.6 636L460.8 641.2M460 636L460.8 636.8M452.6 638.6L455.2 636M452.6 643L459.6 636M452.6 647.4L460.8 639.2M452.6 651.8L460.8 643.6M452.6 656.2L460.8 648M452.6 660.6L460.8 652.4M452.6 665L460.8 656.8M452.6 669.4L460.8 661.2M452.6 673.8L460.8 665.6M452.6 678.2L460.8 670M452.6 682.6L460.8 674.4M452.6 687L460.8 678.8M452.6 691.4L460.8 683.2M452.6 695.8L460.8 687.6M456.3 696.5L460.8 692M506.2 695.4L507.3 696.5M506.2 691L511.7 696.5M506.2 686.6L514.4 694.8M506.2 682.2L514.4 690.4M506.2 677.8L514.4 686M506.2 673.4L514.4 681.6M506.4 669.2L514.4 677.2M510.8 669.2L514.4 672.8M506.2 673L510 669.2M506.2 677.4L514.4 669.2M506.2 681.8L514.4 673.6M506.2 686.2L514.4 678M506.2 690.6L514.4 682.4M506.2 695L514.4 686.8M509.1 696.5L514.4 691.2M513.5 696.5L514.4 695.6M559.9 696.3L560.1 696.5M559.9 691.9L564.5 696.5M559.9 687.5L568.1 695.7M559.9 683.1L568.1 691.3M559.9 678.7L568.1 686.9M563.6 678L568.1 682.5M559.9 680.9L562.8 678M559.9 685.3L567.2 678M559.9 689.7L568.1 681.5M559.9 694.1L568.1 685.9M561.9 696.5L568.1 690.3M566.3 696.5L568.1 694.7M613.5 692.7L617.3 696.5M613.5 688.3L621.7 696.5M613.5 683.9L621.7 692.1M616.3 682.3L621.7 687.7M620.7 682.3L621.7 683.3M613.5 684.5L615.7 682.3M613.5 688.9L620.1 682.3M613.5 693.3L621.7 685.1M614.7 696.5L621.7 689.5M619.1 696.5L621.7 693.9M667.2 698L670.9 701.7M670.1 696.5L675.3 701.7M674.5 696.5L675.4 697.4M667.2 696.8L667.5 696.5M667.2 701.2L671.9 696.5M671.1 701.7L675.4 697.4M599.8 652.6L600.7 653.5M599.9 648.3L605 653.4M604.3 648.3L605 649M599.8 649.8L601.3 648.3M600.5 653.5L605 649" stroke="#b4b4b4" stroke-width="0.72" fill="none"/>
<path d="M77.1 696.5h8.2v33.8h-8.2zM130.7 694.3h8.2v2.2h-8.2zM184.4 684.6h8.2v11.9h-8.2zM238 673.7h8.2v22.8h-8.2zM291.7 648.9h8.2v47.6h-8.2zM345.3 646.4h8.2v50.1h-8.2zM399 623.8h8.2v72.7h-8.2zM452.6 636h8.2v60.5h-8.2zM506.2 669.2h8.2v27.3h-8.2zM559.9 678h8.2v18.5h-8.2zM613.5 682.3h8.2v14.2h-8.2zM667.2 696.5h8.2v5.2h-8.2zM599.8 648.3h5.2v5.2h-5.2z" fill="none" stroke="#0a0a0a" stroke-width="0.8"/>
<text x="607.30" y="605.50" font-size="10.2" text-anchor="start" >SJ6(-10kpa)</text>
<text x="607.30" y="621.80" font-size="10.2" text-anchor="start" >SJ6(-40kpa)</text>
<text x="607.30" y="638.00" font-size="10.2" text-anchor="start" >DN425(-10kpa)</text>
<text x="607.30" y="654.20" font-size="10.2" text-anchor="start" >DN425(-40kpa)</text>
</svg></body></html>
